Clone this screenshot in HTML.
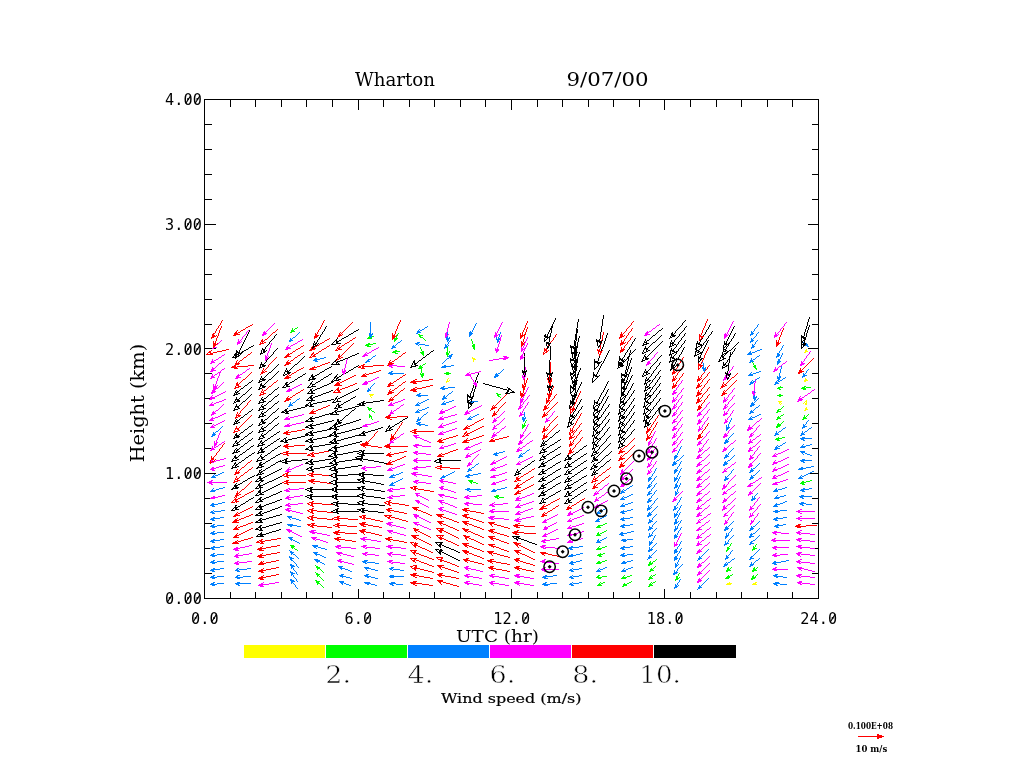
<!DOCTYPE html>
<html lang="en"><head><meta charset="utf-8"><title>Wharton 9/07/00 wind profile</title>
<style>
html,body{margin:0;padding:0;background:#fff;}
body{width:1024px;height:768px;overflow:hidden;position:relative;}
svg{position:absolute;left:0;top:0;display:block;}
.ax{stroke:#000;stroke-width:1;fill:none;shape-rendering:crispEdges;}
.tick{font-family:"DejaVu Sans Mono","Liberation Mono",monospace;font-size:15.2px;letter-spacing:0.1px;fill:#000;}
.ser{font-family:"DejaVu Serif","Liberation Serif",serif;fill:#000;}
.big{font-family:"DejaVu Serif","Liberation Serif",serif;fill:#000;stroke:#fff;stroke-width:0.6px;paint-order:fill stroke;}
.v{stroke-width:1;fill:none;stroke-linecap:butt;}
</style></head><body>
<svg width="1024" height="768" viewBox="0 0 1024 768">
<rect x="0" y="0" width="1024" height="768" fill="#ffffff"/>
<rect class="ax" x="204.5" y="99.5" width="614.0" height="499.0"/>
<path class="ax" d="M230.5 99.5v7M230.5 598.5v-7M255.5 99.5v7M255.5 598.5v-7M281.5 99.5v7M281.5 598.5v-7M306.5 99.5v7M306.5 598.5v-7M332.5 99.5v7M332.5 598.5v-7M358.5 99.5v10M358.5 598.5v-10M383.5 99.5v7M383.5 598.5v-7M409.5 99.5v7M409.5 598.5v-7M434.5 99.5v7M434.5 598.5v-7M460.5 99.5v7M460.5 598.5v-7M485.5 99.5v7M485.5 598.5v-7M511.5 99.5v10M511.5 598.5v-10M537.5 99.5v7M537.5 598.5v-7M562.5 99.5v7M562.5 598.5v-7M588.5 99.5v7M588.5 598.5v-7M613.5 99.5v7M613.5 598.5v-7M639.5 99.5v7M639.5 598.5v-7M664.5 99.5v10M664.5 598.5v-10M690.5 99.5v7M690.5 598.5v-7M716.5 99.5v7M716.5 598.5v-7M741.5 99.5v7M741.5 598.5v-7M767.5 99.5v7M767.5 598.5v-7M792.5 99.5v7M792.5 598.5v-7M204.5 573.5h7M818.5 573.5h-7M204.5 548.5h7M818.5 548.5h-7M204.5 523.5h7M818.5 523.5h-7M204.5 498.5h7M818.5 498.5h-7M204.5 473.5h11M818.5 473.5h-11M204.5 448.5h7M818.5 448.5h-7M204.5 423.5h7M818.5 423.5h-7M204.5 398.5h7M818.5 398.5h-7M204.5 373.5h7M818.5 373.5h-7M204.5 348.5h11M818.5 348.5h-11M204.5 324.5h7M818.5 324.5h-7M204.5 299.5h7M818.5 299.5h-7M204.5 274.5h7M818.5 274.5h-7M204.5 249.5h7M818.5 249.5h-7M204.5 224.5h11M818.5 224.5h-11M204.5 199.5h7M818.5 199.5h-7M204.5 174.5h7M818.5 174.5h-7M204.5 149.5h7M818.5 149.5h-7M204.5 124.5h7M818.5 124.5h-7"/>
<text class="tick" x="202.00" y="604.1" text-anchor="end">0.00</text>
<text class="tick" x="202.00" y="479.4" text-anchor="end">1.00</text>
<text class="tick" x="202.00" y="354.6" text-anchor="end">2.00</text>
<text class="tick" x="202.00" y="229.8" text-anchor="end">3.00</text>
<text class="tick" x="202.00" y="105.1" text-anchor="end">4.00</text>
<text class="tick" x="218.67" y="623.6" text-anchor="end">0.0</text>
<text class="tick" x="372.18" y="623.6" text-anchor="end">6.0</text>
<text class="tick" x="530.30" y="623.6" text-anchor="end">12.0</text>
<text class="tick" x="683.80" y="623.6" text-anchor="end">18.0</text>
<text class="tick" x="837.30" y="623.6" text-anchor="end">24.0</text>
<path d="M167.2 602.5L172.2 594.6M185.7 602.5L190.7 594.6M195.0 602.5L200.0 594.6M185.7 477.8L190.7 469.9M195.0 477.8L200.0 469.9M185.7 353.0L190.7 345.1M195.0 353.0L200.0 345.1M185.7 228.2L190.7 220.3M195.0 228.2L200.0 220.3M185.7 103.5L190.7 95.6M195.0 103.5L200.0 95.6M193.1 622.0L198.1 614.1M211.6 622.0L216.6 614.1M365.1 622.0L370.1 614.1M523.3 622.0L528.3 614.1M676.8 622.0L681.8 614.1M830.3 622.0L835.3 614.1" stroke="#000" stroke-width="1.1" fill="none"/>
<text class="ser" x="355" y="85.9" font-size="17.6" textLength="80" lengthAdjust="spacingAndGlyphs">Wharton</text>
<text class="ser" x="566.5" y="85.9" font-size="17.6" textLength="82" lengthAdjust="spacingAndGlyphs">9/07/00</text>
<text class="ser" x="0" y="0" font-size="18.4" textLength="118.5" lengthAdjust="spacingAndGlyphs" transform="translate(144 462.3) rotate(-90)">Height (km)</text>
<text class="ser" x="456" y="641.8" font-size="17" textLength="83" lengthAdjust="spacingAndGlyphs">UTC (hr)</text>
<rect x="244" y="645" width="81" height="13" fill="#ffff00" shape-rendering="crispEdges"/>
<rect x="326" y="645" width="81" height="13" fill="#00ff00" shape-rendering="crispEdges"/>
<rect x="408" y="645" width="81" height="13" fill="#0080ff" shape-rendering="crispEdges"/>
<rect x="490" y="645" width="81" height="13" fill="#ff00ff" shape-rendering="crispEdges"/>
<rect x="572" y="645" width="81" height="13" fill="#ff0000" shape-rendering="crispEdges"/>
<rect x="654" y="645" width="82" height="13" fill="#000000" shape-rendering="crispEdges"/>
<text class="big" x="325.3" y="683" font-size="24.6" textLength="25.8" lengthAdjust="spacingAndGlyphs">2.</text>
<text class="big" x="407.6" y="683" font-size="24.6" textLength="25.8" lengthAdjust="spacingAndGlyphs">4.</text>
<text class="big" x="489.6" y="683" font-size="24.6" textLength="25.8" lengthAdjust="spacingAndGlyphs">6.</text>
<text class="big" x="572.3" y="683" font-size="24.6" textLength="25.8" lengthAdjust="spacingAndGlyphs">8.</text>
<text class="big" x="639.3" y="683" font-size="24.6" textLength="41.5" lengthAdjust="spacingAndGlyphs">10.</text>
<text class="ser" x="441" y="702.7" font-size="13" stroke="#000" stroke-width="0.18" textLength="140.5" lengthAdjust="spacingAndGlyphs">Wind speed (m/s)</text>
<text class="ser" x="848" y="728.9" font-size="9.3" font-weight="bold" textLength="45" lengthAdjust="spacingAndGlyphs">0.100E+08</text>
<text class="ser" x="855.5" y="752.2" font-size="9.3" font-weight="bold" textLength="31.7" lengthAdjust="spacingAndGlyphs">10 m/s</text>
<g shape-rendering="crispEdges" fill="#ff0000"><rect x="858" y="736" width="26" height="1"/><path d="M884 736h-2v-1h-3v-1h-2v5h2v-1h3v-1h2z"/></g>
<g class="v" shape-rendering="crispEdges">
<path stroke="#ffff00" transform="translate(0 .5)" d="M805 350h2m-2 1h3m-4 1h2m-334 6h3m-2 1h3m329 20h2m-3 1h4m-362 1h3m355 0h2m-437 13h5m-4 1h3m405 6h4m23 0h2m-28 1h2m24 1h2m-2 1h2m-2 4h2m-2 1h3m-4 1h2m-51 172h2m-30 1h5m21 0h3m-30 1h5m21 0h5"/>
<path stroke="#ffff00" transform="translate(.5 0)" d="M370 396v1m1 0v1m75-16v1m1-4v2m1-3v1m1 1v1m23-24v1m1 2v2m256 220v1m50-180v1m1 0v1m1-2v1m22-1v1m1-2v1m1-25v1m1-30v1m0 50v1m0 1v1m0 4v1"/>
<path stroke="#00ff00" transform="translate(0 .5)" d="M295 328h2m-6 2h3m-3 1h4m-5 1h2m126 2h2m-1 1h4m-51 1h2m45 0h2m-53 1h2m50 0h3m-56 1h5m22 0h4m-4 1h3m-3 1h2m-28 3h2m3 0h3m-10 1h7m100 0h2m-110 1h4m103 0h3m-108 1h4m101 0h3m-2 1h2m-2 1h2m-80 2h2m-4 1h7m22 0h2m-32 1h4m24 0h4m22 0h2m-53 1h3m23 0h3m22 0h3m-27 1h2m22 0h3m-26 10h2m329 1h2m-337 1h3m331 0h3m-337 1h4m331 0h2m-338 1h4m333 0h2m-311 4h3m-27 1h2m20 0h7m-31 1h4m22 0h3m-28 1h3m-3 1h2m381 10h2m-28 1h5m19 0h3m1 0h5m-34 1h3m21 0h5m-27 1h2m22 0h3m-310 4h2m-1 1h4m278 0h2m-284 1h2m278 0h6m-285 1h2m279 0h2m-414 11h2m-1 1h4m-4 1h3m407 0h3m-4 1h2m-407 1h2m403 0h4m-5 1h2m-409 3h2m410 0h2m-414 1h3m405 1h3m23 0h3m-29 1h4m22 0h4m-31 1h2m24 0h2m-27 5h4m-259 1h4m251 0h4m-259 1h3m251 0h4m-258 1h2m252 0h2m4 10h3m-9 1h6m-7 1h4m-2 1h3m-312 40h5m337 0h2m-343 1h4m329 0h2m2 0h4m-340 1h2m1 0h3m325 0h5m-330 1h2m322 0h4m-2 1h3m-309 11h3m-5 1h5m-4 1h3m1 0h5m-7 1h2m106 25h2m-4 1h2m-7 1h5m-6 1h3m-4 1h5m3 4h2m-4 1h2m-7 1h2m1 0h2m-5 1h3m-4 1h5m-311 10h4m-3 1h4m310 0h2m-316 1h3m308 0h3m122 0h2m24 0h2m-158 1h5m125 0h3m23 0h4m-462 1h2m299 0h5m126 0h2m23 0h3m-29 1h2m-125 3h2m-7 1h5m-6 1h4m-2 1h3m3 4h2m-9 1h2m2 0h3m48 0h2m-58 1h5m47 0h2m-55 1h5m48 0h4m-5 1h4m-4 1h2m-334 1h2m-2 1h4m-3 1h3m407 0h2m24 0h2m-105 1h3m74 0h3m23 0h3m-106 1h4m72 0h5m21 0h5m-108 1h2m75 0h2m24 0h2m-438 2h2m-2 1h4m-3 1h2m279 0h2m30 0h2m21 0h2m75 0h2m-135 1h2m3 0h5m20 0h3m46 0h2m49 0h3m22 0h2m-158 1h6m20 0h5m22 0h3m24 0h2m48 0h4m22 0h4m-158 1h3m20 0h5m23 0h4m23 0h3m46 0h4m22 0h4m-107 1h2m25 0h3m73 0h2m-438 1h2m-1 1h4m-4 1h3m284 0h2m24 0h2m22 0h2m-338 1h3m281 0h2m24 0h2m-31 1h3m22 0h4m22 0h3m-55 1h5m21 0h4m22 0h4m-31 1h2m24 0h2"/>
<path stroke="#00ff00" transform="translate(.5 0)" d="M292 328v2m0 218v1m2-220v1m0 218v1m3-222v1m0 222v1m18 14v1m0 6v1m2-4v1m0 6v1m0 7v1m2-9v1m1-8v1m0 7v1m0 6v1m1-15v1m0 7v1m0 6v1m1-15v1m0 7v1m0 6v1m1-15v1m0 7v1m0 6v1m46-252v1m0 73v1m0 3v1m0 2v1m2-81v1m0 72v1m0 6v2m1 0v1m2-8v1m20-72v1m2-6v2m1-4v2m1-3v1m22 13v2m0 16v1m0 7v1m1-25v2m0 18v4m1-8v1m0 11v1m1-40v1m0 16v1m1-17v1m1 0v1m0 22v1m22-17v5m0 3v2m2-6v2m22-14v2m0 142v1m1-143v3m2 5v1m26 47v1m22 26v1m0 3v1m2-6v2m1-4v2m1-3v1m72 111v1m0 14v1m1-2v1m0 36v1m1-31v1m0 28v1m6-53v1m17 45v1m1-2v1m0 7v1m7-3v1m19-21v1m0 14v1m0 6v1m1-16v1m0 6v1m0 6v1m1-21v1m0 13v1m0 6v1m1-16v1m1-2v1m1-8v1m0 5v1m0 7v1m0 6v1m1-23v1m19 20v1m3-7v2m1-3v1m0 3v1m47-27v1m2 15v1m0 7v1m1-30v1m1-3v2m0 22v1m1-26v1m0 23v1m1 6v1m20-213v1m0 187v1m1-188v2m0 181v1m0 28v1m1-9v1m1-23v2m0 29v1m1-208v1m0 174v1m0 23v1m0 6v1m1-9v1m0 6v1m21-159v1m0 6v1m0 13v1m2-52v1m0 29v1m1-9v1m0 14v1m1-17v1m0 14v1m1-17v1m0 7v1m0 6v1m21-7v2m2-1v1m1-2v1m1-2v1"/>
<path stroke="#0080ff" transform="translate(0 .5)" d="M425 327h2m-5 2h2m-4 1h2m-5 1h3m-3 1h4m48 0h3m279 0h2m-384 1h2m45 0h2m51 0h4m278 0h3m-385 1h4m96 0h3m278 0h3m-384 1h3m97 0h2m-101 1h2m-79 1h2m151 0h2m-2 1h4m48 0h2m-210 1h2m154 0h3m47 0h4m251 0h2m-464 1h4m154 0h2m48 0h2m252 0h3m-465 1h2m206 0h2m251 0h3m-355 1h2m17 0h3m-5 1h4m-3 1h2m1 0h6m381 0h2m-383 1h4m16 0h2m305 0h2m51 0h3m-416 1h3m50 0h3m304 0h3m52 0h2m-417 1h4m48 0h3m304 0h3m-363 1h2m367 1h2m-5 1h3m-5 1h2m-8 1h2m1 0h3m-7 1h4m25 0h2m-328 1h2m294 0h5m25 0h3m-331 1h3m325 0h3m-407 1h2m73 0h4m305 0h2m17 0h3m-455 1h2m123 0h2m-136 1h2m3 0h4m123 0h2m-135 1h6m48 0h3m382 0h2m23 0h2m-467 1h4m50 0h2m381 0h3m25 0h2m-465 1h3m48 0h4m380 0h4m23 0h4m-416 1h2m382 0h2m26 0h3m-3 1h2m-335 2h2m5 0h3m-12 1h9m-10 1h5m256 0h2m-2 1h4m-3 1h3m-3 1h2m-314 1h2m366 0h2m-372 1h3m364 0h3m-371 1h16m94 0h2m253 0h3m-366 1h3m102 0h3m251 0h4m50 0h2m-310 1h4m249 0h5m50 0h4m-313 1h4m281 0h2m21 0h3m-311 1h2m281 0h4m-24 1h2m18 0h3m3 0h2m-7 1h2m-3 1h2m1 0h2m-29 1h2m23 0h2m-30 1h4m21 0h3m-28 1h3m22 0h4m-30 1h2m23 0h2m-333 2h2m-4 1h3m4 0h7m-15 1h8m-80 1h2m72 0h3m-78 1h4m-4 1h2m50 2h2m28 0h2m-34 1h3m-4 1h12m-10 1h3m22 0h2m308 0h2m-312 1h3m307 0h4m-315 1h5m306 0h3m-459 1h2m128 0h2m13 0h2m310 0h2m-331 1h2m25 0h2m-31 1h2m24 0h3m20 0h6m-185 1h2m126 0h2m23 0h3m22 0h2m-54 1h2m21 0h4m305 0h3m-465 1h3m124 0h3m22 0h5m305 0h4m-466 1h4m122 0h5m330 0h4m-466 1h2m460 0h2m-325 1h2m327 0h2m-333 1h2m-5 1h3m-6 1h3m-6 1h3m331 0h3m-338 1h5m330 0h4m-5 1h2m-327 1h2m51 0h2m280 0h2m-286 1h2m280 0h2m-286 1h2m280 0h2m-286 1h2m49 0h2m228 0h3m-287 1h3m51 0h4m223 0h3m-335 1h4m46 0h5m50 0h3m223 0h5m-336 1h3m103 0h2m-109 1h2m0 1h3m-5 1h4m-3 1h8m-6 1h2m4 0h3m375 0h2m-2 1h4m-81 1h4m72 0h3m-79 1h3m54 0h2m24 0h2m-85 1h2m-512 2h2m561 0h2m24 0h2m-594 2h2m560 0h3m23 0h3m-592 1h4m559 0h4m22 0h4m-593 1h3m559 0h2m24 0h2m-591 1h2m589 1h3m-5 1h12m-11 1h3m-79 1h3m75 0h2m-80 1h4m-5 1h4m-4 1h2m57 0h2m25 1h2m-32 1h2m24 0h4m-32 1h2m21 0h5m-31 1h3m22 0h5m-30 1h5m-6 1h3m-250 1h2m-26 1h2m295 0h5m-306 1h4m298 0h4m-311 1h5m24 0h2m280 0h2m-314 1h4m310 0h3m-315 1h3m21 0h3m153 0h2m48 0h3m82 0h2m-293 1h4m151 0h4m47 0h4m-211 1h2m154 0h3m47 0h3m-53 1h2m126 1h3m-128 1h2m49 0h2m70 0h12m-11 1h3m-131 1h3m48 0h3m76 0h2m-132 1h4m47 0h4m-252 1h2m194 0h4m47 0h4m-55 1h2m49 0h2m86 1h3m-342 1h2m327 0h2m3 0h5m-58 1h2m44 0h7m-338 1h3m204 0h2m74 0h2m45 0h5m-335 1h4m202 0h4m72 0h4m-287 1h2m205 0h3m73 0h3m59 0h2m-592 1h2m177 0h2m49 0h2m220 0h2m73 0h2m59 0h2m-592 1h2m177 0h2m49 0h2m26 0h3m327 0h2m-592 1h2m176 0h3m49 0h2m18 0h2m3 0h5m328 0h2m-593 1h3m173 0h5m50 0h2m18 0h7m280 0h2m49 0h2m-594 1h3m175 0h3m49 0h4m19 0h4m282 0h2m49 0h2m-593 1h5m173 0h6m46 0h4m22 0h3m179 0h2m74 0h2m23 0h4m45 0h3m-362 1h2m206 0h4m22 0h4m47 0h4m21 0h3m45 0h5m-403 1h2m246 0h3m23 0h3m47 0h4m21 0h2m-353 1h2m248 0h2m24 0h2m48 0h2m-330 1h2m-4 1h2m-5 1h3m-4 1h3m256 0h2m24 0h2m-288 1h6m253 0h2m25 0h3m-48 1h2m16 0h3m24 0h3m-455 1h2m280 0h2m140 0h3m24 0h3m108 0h2m-568 1h4m244 0h3m31 0h4m122 0h2m153 0h3m18 0h2m4 0h3m-596 1h3m246 0h16m12 0h2m2 0h4m274 0h2m1 0h4m19 0h8m-598 1h5m251 0h2m23 0h5m127 0h2m148 0h4m22 0h4m-594 1h5m254 0h2m20 0h5m125 0h3m25 0h2m122 0h5m24 0h3m-184 1h4m23 0h2m25 0h2m-57 1h2m26 0h4m23 0h3m-47 1h2m14 0h3m25 0h2m-48 1h2m153 0h2m15 0h3m-177 1h2m151 0h4m15 0h13m-188 1h3m148 0h5m20 0h3m-182 1h3m25 0h2m101 0h4m18 0h5m23 0h2m-184 1h5m23 0h2m101 0h4m-107 1h4m99 0h2m-106 1h4m134 0h2m-565 1h3m406 0h2m14 0h2m134 0h2m16 0h3m-592 1h2m4 0h4m406 0h3m149 0h3m16 0h7m-595 1h7m407 0h3m147 0h5m20 0h3m3 0h6m-602 1h4m407 0h4m149 0h3m25 0h2m-592 1h3m405 0h5m49 0h2m97 0h5m-130 1h2m24 0h2m-29 1h4m23 0h3m-74 1h2m26 0h2m14 0h3m23 0h3m-455 1h4m402 0h4m144 0h3m2 0h7m-576 1h2m1 0h7m379 0h2m19 0h6m146 0h7m-570 1h4m383 0h3m20 0h4m151 0h3m-566 1h3m382 0h4m21 0h3m23 0h3m-55 1h2m50 0h4m22 0h4m-31 1h4m23 0h3m-390 1h5m312 0h2m41 0h2m25 0h2m-463 1h2m5 0h4m64 0h4m310 0h2m26 0h3m143 0h2m5 0h4m-576 1h9m72 0h4m304 0h2m19 0h9m144 0h9m-573 1h4m82 0h3m298 0h3m20 0h4m51 0h2m96 0h4m-565 1h3m84 0h2m295 0h3m23 0h3m24 0h3m23 0h2m98 0h3m-183 1h5m49 0h4m22 0h2m-29 1h3m23 0h4m-4 1h3m-464 1h2m72 0h6m330 0h2m5 0h3m144 0h2m4 0h3m-575 1h3m3 0h7m64 0h9m324 0h9m145 0h8m-573 1h7m73 0h2m5 0h4m319 0h4m129 0h2m19 0h4m-566 1h3m407 0h3m24 0h3m73 0h3m23 0h2m23 0h3m-130 1h4m22 0h3m47 0h4m21 0h4m-106 1h3m23 0h3m47 0h4m22 0h3m-79 1h2m48 0h2m23 0h2m-538 1h2m416 0h3m-423 1h3m3 0h7m397 0h2m4 0h4m-421 1h7m403 0h7m126 0h2m-543 1h3m404 0h4m127 0h3m-132 1h3m25 0h4m21 0h3m49 0h3m21 0h2m-104 1h3m23 0h4m47 0h3m21 0h5m-466 1h5m381 0h3m48 0h2m22 0h2m-462 1h3m312 0h2m-393 1h2m5 0h4m66 0h3m309 0h2m18 0h4m1 0h6m-422 1h9m73 0h2m302 0h2m1 0h2m19 0h6m126 0h2m-545 1h4m81 0h2m300 0h3m23 0h3m125 0h2m-541 1h3m82 0h2m297 0h5m48 0h4m97 0h2m-103 1h3m73 0h4m21 0h4m-105 1h2m73 0h3m22 0h2m-439 1h6m-105 1h2m5 0h4m89 0h5m253 0h2m6 0h4m40 0h2m5 0h3m-422 1h9m94 0h2m2 0h3m248 0h10m42 0h9m-420 1h4m107 0h4m243 0h4m48 0h4m-412 1h3m110 0h2m243 0h3m49 0h3m24 0h4m22 0h2m-29 1h4m22 0h3m-387 1h2m356 0h2m24 0h4m-388 1h4m19 0h5m356 0h3m-464 1h2m76 0h2m21 0h3m263 0h3m40 0h2m-414 1h3m3 0h7m69 0h2m20 0h5m251 0h2m3 0h4m41 0h3m3 0h6m-423 1h7m103 0h2m247 0h7m44 0h7m-415 1h3m107 0h2m244 0h5m49 0h3m24 0h2m24 0h2m49 0h2m23 0h2m-464 1h3m32 0h2m322 0h4m22 0h3m22 0h2m25 0h3m21 0h2m-462 1h4m354 0h2m24 0h4m20 0h4m23 0h3m22 0h4m-464 1h2m22 0h4m356 0h3m21 0h2m32 0h2m15 0h2m-538 1h2m76 0h2m22 0h5m44 0h4m212 0h2m49 0h2m123 0h2m28 0h3m-578 1h3m3 0h7m92 0h4m42 0h5m204 0h2m3 0h4m43 0h2m2 0h4m143 0h2m5 0h5m-576 1h7m103 0h2m41 0h3m1 0h8m195 0h6m46 0h5m101 0h2m43 0h8m-569 1h3m107 0h2m41 0h2m8 0h4m190 0h4m48 0h5m146 0h4m-486 1h2m279 0h3m101 0h2m47 0h4m22 0h4m20 0h3m-487 1h4m381 0h3m46 0h3m23 0h3m-462 1h4m43 0h5m332 0h2m46 0h2m24 0h2m-460 1h2m46 0h3m22 0h5m22 0h3m211 0h2m24 0h2m-420 1h2m5 0h4m13 0h2m8 0h4m89 0h5m20 0h6m18 0h4m186 0h3m21 0h2m23 0h3m-420 1h9m16 0h2m1 0h8m98 0h3m23 0h4m15 0h2m1 0h7m170 0h2m1 0h6m21 0h3m23 0h2m-418 1h4m21 0h4m109 0h2m25 0h3m22 0h4m165 0h4m24 0h3m22 0h4m-414 1h3m22 0h3m110 0h2m219 0h3m22 0h5m20 0h5m-336 1h3m381 0h4m-387 1h4m378 0h4m-386 1h2m48 0h3m22 0h3m304 0h2m100 0h3m-565 1h2m22 0h3m99 0h4m21 0h4m22 0h4m151 0h2m6 0h4m22 0h3m191 0h4m-566 1h3m3 0h7m12 0h2m5 0h8m89 0h6m19 0h6m18 0h15m139 0h10m17 0h2m1 0h6m195 0h9m-573 1h7m18 0h8m103 0h4m17 0h2m2 0h4m15 0h4m148 0h4m23 0h4m203 0h2m5 0h4m-575 1h3m22 0h3m110 0h2m23 0h3m166 0h4m23 0h3m-284 1h2m-2 1h4m-3 1h4m44 0h5m-131 1h2m22 0h3m51 0h2m47 0h4m20 0h6m21 0h4m150 0h2m32 0h3m193 0h4m-568 1h3m3 0h7m11 0h16m90 0h2m1 0h2m19 0h6m18 0h7m147 0h3m4 0h7m13 0h2m1 0h6m194 0h7m-570 1h7m19 0h3m107 0h3m18 0h2m2 0h4m15 0h3m3 0h7m139 0h8m19 0h4m201 0h3m3 0h7m-575 1h3m23 0h2m109 0h2m24 0h2m15 0h2m150 0h4m23 0h3m101 0h2m99 0h2m-103 1h3m21 0h2m-27 1h3m21 0h4m-4 1h2"/>
<path stroke="#0080ff" transform="translate(.5 0)" d="M212 489v1m1-58v1m0 42v1m0 12v1m0 21v1m1-37v1m1-43v1m3-3v1m1-2v1m1-2v1m1-2v1m1-2v1m67 91v1m0 31v1m0 5v1m1-219v1m0 63v2m0 115v1m0 51v1m1-32v1m0 13v1m0 13v1m0 6v1m0 7v1m1-246v1m0 64v1m1 157v1m0 6v2m0 5v2m0 6v1m1-22v1m0 7v1m0 6v1m0 6v1m1-249v1m0 64v1m0 153v1m0 7v1m0 7v1m0 6v1m0 6v2m1-252v1m0 64v1m0 155v1m0 7v2m0 6v2m0 5v2m0 6v1m1-254v1m0 222v1m0 8v1m0 7v1m0 6v1m0 6v1m1-256v1m0 224v1m0 8v1m1-236v1m0 65v1m0 144v1m17 4v1m0 6v1m1 6v1m7 1v1m17 4v1m1 7v1m0 6v1m24-16v1m1 0v1m1-183v1m2-67v11m0 4v1m0 49v2m1-31v1m0 27v1m1-54v1m0 23v1m0 27v1m1-2v1m1-2v1m1-29v1m17 126v1m0 87v1m1-226v1m0 128v1m2-130v1m1-2v1m1-2v1m3-3v1m1-2v1m1 137v1m15-76v1m0 6v1m1-81v1m0 14v1m0 56v1m0 6v1m0 7v2m1-90v1m1 88v1m1-2v1m1-2v1m1-2v1m1-88v1m2 84v1m1-88v1m0 85v1m15-50v1m1-2v1m0 39v1m0 72v1m1-128v1m0 12v1m0 33v1m0 5v1m1-58v1m0 15v1m1-2v1m0 36v1m1-65v3m0 1v1m0 4v1m0 2v1m0 50v1m1-54v2m0 1v1m0 48v1m1-58v1m0 3v1m1-2v1m0 17v1m1 33v1m1-2v1m2 79v1m15-136v1m0 80v1m0 50v1m1-138v1m0 69v1m0 14v1m1 51v1m1-139v2m1-4v2m1-4v2m0 138v1m1-143v2m0 139v1m1-143v1m2 139v1m18-127v2m0 34v1m0 78v1m1-111v1m1-6v1m1-4v3m1-5v2m0 38v1m1-2v1m1-2v1m1-2v1m17 84v1m1-2v1m1 0v1m1-34v1m1-10v5m1 0v1m0 34v1m1-2v1m3-3v1m43 118v1m0 6v1m0 6v1m26-72v1m0 6v1m0 20v1m0 29v1m1-60v1m0 57v1m3-59v1m3-3v1m1 6v1m0 21v1m16-48v1m0 6v1m0 6v1m1-16v1m0 6v1m0 6v1m0 6v1m0 6v1m0 51v1m1-2v1m2-80v1m3-3v1m3-3v1m15 2v1m0 6v1m0 14v1m0 48v1m1-79v1m0 23v2m0 16v1m0 6v1m0 6v1m1-26v1m0 6v1m0 6v1m0 6v2m0 6v1m0 3v1m0 1v2m0 6v1m1-50v1m1-31v1m0 5v2m0 1v1m0 3v2m0 5v2m0 7v1m0 1v1m0 4v1m0 21v1m0 6v1m0 6v1m0 6v1m1-82v2m0 5v1m0 6v1m0 6v1m0 8v1m0 6v1m0 6v2m0 5v2m0 5v2m0 6v1m0 6v1m0 6v1m1-82v1m0 6v1m0 6v1m0 6v1m0 8v1m0 6v1m0 6v1m0 6v1m0 6v1m0 6v2m0 6v1m0 6v1m1-83v2m0 5v2m0 5v2m0 5v2m0 7v2m0 6v1m0 6v1m0 6v1m0 6v1m0 5v2m0 7v1m0 6v1m1-84v2m0 6v1m0 6v1m0 6v1m0 8v1m0 7v1m0 6v1m0 6v1m0 6v1m0 5v1m0 8v1m0 6v1m1-84v1m0 7v1m0 6v1m0 6v1m0 8v1m0 7v1m0 6v1m0 6v1m0 6v1m0 14v1m0 6v1m1-53v1m0 7v1m16 3v1m1-52v1m0 1v1m0 11v1m0 3v1m0 3v1m0 6v1m0 24v1m0 3v1m0 6v1m0 6v1m0 6v1m0 14v1m0 6v1m0 9v2m0 16v1m1-98v1m0 3v1m0 30v2m0 6v1m0 28v1m0 3v1m0 16v1m1-124v1m0 15v1m0 5v1m0 21v1m0 7v1m0 57v1m1-119v2m0 12v2m0 6v2m0 4v2m0 6v3m0 11v2m0 2v1m0 3v2m0 4v2m0 7v2m0 5v2m0 12v2m0 5v2m0 6v2m0 5v2m0 12v2m1-134v2m0 13v1m0 6v2m0 4v2m0 6v2m0 3v1m0 9v1m0 7v1m0 4v2m0 4v1m0 2v2m0 5v2m0 13v1m0 6v1m0 6v2m0 2v1m0 3v1m0 13v1m0 2v1m1-137v2m0 8v1m0 4v2m0 5v2m0 4v2m0 6v2m0 13v2m0 6v2m0 3v2m0 8v1m0 6v1m0 13v2m0 5v2m0 5v2m0 7v1m0 12v2m1-135v2m0 9v1m0 3v2m0 5v2m0 5v1m0 6v2m0 13v2m0 6v2m0 4v1m0 8v2m0 5v2m0 12v2m0 5v2m0 5v2m0 8v1m0 12v1m1-134v1m0 10v1m0 3v1m0 6v1m0 28v1m0 7v1m0 14v1m0 6v1m0 13v1m0 6v1m0 16v1m1-110v1m0 107v1m1-110v1m14 104v1m0 28v1m2-34v1m0 28v1m2-30v1m0 28v1m1-224v1m0 192v1m0 28v1m1-222v4m0 187v1m0 28v1m1-213v1m0 181v1m0 28v1m1-216v1m0 184v1m0 28v1m1-31v1m0 28v1m1-31v1m0 28v1m1-31v1m0 28v1m16-121v1m0 86v1m1-85v1m0 14v1m0 61v1m0 2v2m0 16v1m0 3v1m1-139v2m0 3v1m0 8v1m0 14v1m0 71v1m0 6v2m0 20v1m0 6v1m1-102v1m0 14v1m0 65v1m0 20v1m1-140v3m0 11v2m0 13v2m0 20v1m0 50v1m0 6v2m0 5v2m0 13v1m1-134v2m0 13v1m0 14v1m0 21v1m0 50v1m0 6v1m0 6v1m0 14v1m1-135v2m0 14v1m0 14v1m0 7v1m0 13v1m0 50v1m0 6v1m0 6v1m0 13v2m0 7v1m1-144v2m0 15v1m0 14v1m0 7v1m0 12v2m0 50v1m0 5v2m0 6v1m0 13v1m0 8v1m1-127v1m0 14v1m0 7v1m0 12v1m0 51v1m0 5v1m0 7v1m0 13v1m1-118v1m0 14v1m0 7v1m0 12v1m0 51v1m0 13v1m1-81v1m0 102v1m16-224v1m0 6v1m0 8v1m0 21v1m0 43v1m1-87v1m0 6v1m0 9v1m0 9v2m0 12v1m0 8v1m0 28v1m0 5v1m0 51v1m0 6v1m0 50v1m0 6v1m0 28v2m1-220v1m0 35v1m0 21v1m0 93v2m1-167v1m0 6v1m0 71v1m0 144v1m0 7v1m1-235v2m0 6v1m0 6v1m0 46v2m0 2v1m0 4v1m0 1v1m0 6v1m0 86v2m0 56v1m0 7v1m1-235v1m0 7v1m0 5v2m0 14v1m0 21v1m0 20v1m0 6v1m0 58v1m0 6v1m0 20v1m0 29v1m0 6v1m0 6v1m0 13v1m0 7v1m1-235v1m0 6v2m0 5v1m0 15v1m0 21v1m0 16v1m0 3v1m0 65v1m0 6v1m0 20v1m0 29v1m0 6v1m0 6v1m0 13v1m1-228v2m0 6v1m0 6v1m0 58v1m0 65v1m0 6v1m0 20v1m0 29v1m0 6v1m0 6v1m0 13v1m1-228v1m0 7v1m0 65v1m0 7v1m0 57v1m0 6v1m0 50v1m0 6v1m0 6v1m0 13v1m0 8v1m1-205v1m0 21v1m0 27v1m0 57v1m0 6v1m0 50v1m0 6v1m0 6v1m0 13v1m0 8v1m17-202v1m0 23v1m0 49v2m0 13v1m0 41v1m0 7v1m0 6v1m1-140v1m0 11v1m0 68v1m0 49v1m1-64v1m1-82v2m0 20v3m1-26v1m0 6v2m0 10v4m1-25v2m0 5v2m0 9v3m0 61v1m1-85v2m0 5v2m0 24v1m0 49v1m0 14v1m1-100v1m2 31v1m0 49v1m0 14v1m15 33v1m1-2v1m1-99v1m0 50v1m0 2v2m0 12v1m0 7v1m1-112v1m0 30v1m0 50v1m0 19v1m0 9v1m1-23v1m1-60v1m0 50v1m1-82v1m0 27v2m0 49v2m1-54v1m0 50v1m0 8v1m1-62v1m0 50v1m0 8v1m3-3v1"/>
<path stroke="#ff00ff" transform="translate(0 .5)" d="M657 325h2m-6 3h2m-6 3h2m-388 1h3m380 0h3m-386 1h4m178 0h2m48 0h2m148 0h3m-386 1h4m179 0h2m48 0h2m148 0h5m74 0h3m48 0h2m-515 1h2m181 0h3m46 0h4m146 0h3m77 0h4m46 0h4m-333 1h2m47 0h3m227 0h3m47 0h3m-53 1h2m-426 3h2m-64 1h2m58 0h2m-63 1h4m-4 1h3m55 0h2m-4 1h2m-4 1h2m-79 2h3m69 0h4m-78 1h2m72 0h5m85 0h2m143 0h2m1 0h2m-241 1h3m86 0h2m119 0h4m22 0h4m-153 1h2m121 0h4m22 0h2m-27 1h2m-129 1h2m-4 1h2m-5 1h3m-145 1h2m139 0h5m153 0h2m-258 1h2m95 0h3m138 0h4m13 0h3m-304 1h2m44 0h3m236 0h5m11 0h4m-259 1h3m231 0h9m12 0h3m-307 1h2m47 0h2m226 0h6m4 0h3m-292 1h2m273 0h4m-282 1h3m434 0h2m-439 1h4m432 0h3m151 0h2m-593 1h2m7 0h2m426 0h4m132 0h2m16 0h4m-159 1h3m151 0h4m-415 1h8m403 0h2m-413 1h3m5 0h8m374 0h2m-390 1h2m-181 1h3m-4 1h3m8 0h2m23 0h2m525 0h4m-567 1h5m128 0h2m428 0h3m-567 1h3m129 0h4m133 0h2m292 0h2m-557 1h3m22 0h2m97 0h3m130 0h4m-136 1h2m122 0h2m2 0h4m-260 1h2m23 0h2m224 0h5m-234 1h3m225 0h6m-260 1h3m22 0h3m283 0h2m-313 1h4m21 0h5m136 0h2m143 0h3m199 0h2m-516 1h2m23 0h3m137 0h2m146 0h2m199 0h3m-354 1h2m348 0h3m-355 1h2m-8 1h2m1 0h3m-7 1h4m106 0h2m-113 1h5m105 0h4m-177 1h2m60 0h5m107 0h3m-179 1h2m175 0h2m-264 1h4m79 0h2m-85 1h4m77 0h2m-83 1h5m74 0h2m-81 1h3m72 0h4m-80 1h3m72 0h5m382 0h2m136 0h2m-602 1h4m70 0h4m383 0h2m77 0h2m-543 1h4m8 0h2m448 0h4m75 0h2m-543 1h2m8 0h2m449 0h4m76 0h3m53 0h2m-591 1h2m451 0h2m79 0h2m-538 1h2m586 0h2m-592 1h2m-7 1h5m587 0h2m-594 1h5m584 0h3m-593 1h3m12 0h2m177 0h2m115 0h4m149 0h2m49 0h2m72 0h5m-581 1h2m177 0h2m117 0h3m149 0h4m47 0h4m71 0h4m-583 1h3m176 0h3m119 0h3m149 0h3m48 0h3m71 0h2m-583 1h3m176 0h3m122 0h2m-308 1h2m174 0h2m1 0h2m-185 1h4m175 0h4m-184 1h5m174 0h6m7 0h2m117 0h2m152 0h2m49 0h2m-273 1h2m23 0h2m38 0h2m152 0h2m49 0h2m-274 1h2m23 0h2m40 0h3m151 0h3m48 0h3m-330 1h2m51 0h2m23 0h2m41 0h3m151 0h3m48 0h3m-278 1h2m23 0h2m-259 1h2m176 0h2m49 0h3m23 0h2m-33 1h5m21 0h2m1 0h2m-259 1h3m175 0h3m47 0h5m20 0h4m205 0h2m23 0h2m-489 1h4m8 0h2m164 0h4m45 0h4m22 0h5m50 0h2m151 0h2m23 0h3m23 0h4m-517 1h3m8 0h2m78 0h2m85 0h2m64 0h2m7 0h3m53 0h4m149 0h3m22 0h4m21 0h4m-507 1h2m76 0h4m149 0h4m64 0h3m150 0h3m22 0h3m23 0h2m-507 1h2m74 0h4m150 0h3m-236 1h3m68 0h2m2 0h4m146 0h2m2 0h4m49 0h2m-288 1h4m70 0h5m149 0h5m-234 1h3m71 0h6m148 0h6m50 0h2m50 0h2m126 0h2m-467 1h5m279 0h4m49 0h4m123 0h2m23 0h3m24 0h2m-505 1h2m153 0h2m76 0h2m36 0h3m49 0h3m125 0h4m21 0h4m23 0h3m29 0h2m-539 1h2m79 0h3m70 0h3m75 0h3m37 0h2m178 0h3m23 0h3m23 0h3m-509 1h2m76 0h5m70 0h3m75 0h3m245 0h3m-484 1h2m69 0h2m3 0h4m69 0h6m75 0h3m48 0h2m-285 1h2m69 0h7m71 0h4m73 0h2m1 0h3m-235 1h3m70 0h6m72 0h6m71 0h4m51 0h2m178 0h2m-466 1h5m223 0h6m49 0h2m178 0h2m73 0h4m-297 1h2m36 0h4m5 0h2m169 0h4m22 0h2m47 0h5m-301 1h3m37 0h2m178 0h4m22 0h4m45 0h4m-302 1h3m220 0h2m24 0h2m47 0h2m-303 1h3m-9 1h2m1 0h3m51 0h2m-60 1h4m308 0h2m-352 1h2m35 0h6m49 0h3m178 0h2m48 0h3m23 0h2m-339 1h6m73 0h5m23 0h4m149 0h2m49 0h4m22 0h3m-339 1h3m75 0h3m25 0h3m150 0h3m47 0h4m22 0h3m5 0h2m-362 1h2m16 0h5m71 0h2m27 0h2m150 0h3m48 0h2m-305 1h2m-28 1h2m26 0h2m329 0h2m-331 1h3m-37 1h3m34 0h2m90 0h3m8 0h2m117 0h2m23 0h2m23 0h2m48 0h3m-536 1h2m4 0h2m166 0h4m35 0h2m49 0h2m37 0h4m125 0h2m23 0h2m23 0h3m48 0h4m-539 1h3m172 0h2m63 0h2m22 0h2m38 0h4m5 0h2m119 0h3m22 0h3m22 0h4m29 0h2m15 0h2m-536 1h3m2 0h2m194 0h4m32 0h3m21 0h3m40 0h2m128 0h2m22 0h3m22 0h3m-486 1h2m197 0h9m26 0h3m22 0h2m-259 1h2m196 0h3m5 0h9m13 0h4m23 0h2m50 0h2m228 0h2m-541 1h2m200 0h2m22 0h4m22 0h5m-260 1h3m225 0h5m21 0h3m52 0h2m152 0h2m48 0h3m22 0h3m-541 1h4m249 0h6m47 0h3m128 0h2m23 0h2m24 0h2m22 0h4m22 0h2m36 0h2m-579 1h2m266 0h2m37 0h5m126 0h2m23 0h4m22 0h3m3 0h2m16 0h3m22 0h5m32 0h2m-372 1h3m58 0h2m38 0h3m128 0h4m21 0h3m23 0h3m21 0h2m24 0h2m33 0h2m-372 1h5m56 0h2m171 0h3m131 0h2m-369 1h3m1 0h8m46 0h2m304 0h3m-365 1h2m8 0h5m39 0h2m304 0h2m-312 1h4m228 0h3m72 0h3m-310 1h5m226 0h3m50 0h2m20 0h5m-312 1h3m36 0h2m24 0h2m116 0h2m47 0h5m48 0h4m33 0h2m-565 1h2m190 0h2m84 0h2m24 0h2m117 0h4m45 0h3m50 0h4m32 0h2m-567 1h4m190 0h3m83 0h2m24 0h2m119 0h3m99 0h2m32 0h2m-574 1h2m3 0h4m193 0h18m67 0h2m24 0h2m176 0h2m77 0h2m-569 1h2m198 0h3m79 0h2m24 0h2m254 0h3m-569 1h2m202 0h2m74 0h4m24 0h2m177 0h2m72 0h5m-310 1h3m20 0h5m21 0h3m178 0h2m50 0h2m21 0h4m-476 1h2m100 0h2m63 0h4m18 0h3m12 0h2m9 0h5m127 0h2m47 0h5m30 0h2m15 0h3m20 0h2m13 0h2m-566 1h2m74 0h2m99 0h3m64 0h3m33 0h2m143 0h3m46 0h3m5 0h2m42 0h4m32 0h2m-568 1h4m73 0h3m65 0h2m10 0h5m16 0h3m16 0h2m8 0h5m69 0h3m144 0h3m46 0h2m50 0h4m31 0h2m-573 1h2m2 0h3m75 0h2m66 0h3m1 0h10m19 0h2m17 0h12m71 0h3m228 0h2m18 0h2m31 0h2m-572 1h5m76 0h2m67 0h5m23 0h2m1 0h3m17 0h5m75 0h2m1 0h2m281 0h3m-571 1h4m73 0h5m71 0h2m23 0h4m22 0h4m73 0h4m278 0h5m-566 1h3m71 0h3m76 0h2m20 0h6m97 0h6m125 0h2m75 0h3m23 0h2m47 0h4m-492 1h6m330 0h3m24 0h2m47 0h5m21 0h4m45 0h2m13 0h2m-376 1h5m87 0h2m114 0h4m23 0h3m46 0h3m5 0h2m15 0h2m61 0h2m-376 1h5m86 0h3m115 0h3m24 0h3m46 0h2m85 0h2m-373 1h10m77 0h3m279 0h2m-369 1h2m6 0h6m65 0h6m126 0h2m147 0h2m2 0h3m-353 1h4m59 0h4m278 0h2m1 0h2m-288 1h6m125 0h3m74 0h3m72 0h3m-155 1h4m72 0h3m59 0h2m11 0h5m-336 1h3m61 0h2m113 0h4m5 0h2m66 0h5m3 0h2m79 0h2m-577 1h2m202 0h4m20 0h4m59 0h3m115 0h2m74 0h3m57 0h2m25 0h3m-577 1h3m201 0h5m22 0h8m51 0h3m278 0h3m-576 1h20m187 0h3m1 0h8m15 0h2m5 0h5m40 0h2m1 0h3m126 0h2m126 0h2m20 0h5m-571 1h3m204 0h2m8 0h5m22 0h3m36 0h4m254 0h3m20 0h4m-566 1h2m278 0h5m125 0h3m74 0h3m48 0h2m21 0h6m-173 1h2m14 0h4m72 0h3m23 0h2m23 0h5m-312 1h3m176 0h4m73 0h5m21 0h4m5 0h2m13 0h4m-312 1h4m253 0h3m24 0h3m-438 1h2m9 0h5m86 0h3m7 0h5m35 0h4m278 0h3m-439 1h2m1 0h10m89 0h3m1 0h8m41 0h2m1 0h4m152 0h2m100 0h2m24 0h2m-446 1h5m98 0h5m56 0h3m-165 1h4m99 0h4m58 0h3m245 0h2m-247 1h2m150 0h2m90 0h2m23 0h3m23 0h3m-337 1h5m112 0h2m60 0h5m98 0h5m21 0h4m22 0h4m-337 1h2m20 0h6m86 0h2m62 0h3m100 0h3m5 0h2m15 0h2m7 0h2m15 0h3m-529 1h3m75 0h3m88 0h2m7 0h5m11 0h4m19 0h6m22 0h2m8 0h5m45 0h3m63 0h2m7 0h2m92 0h2m-485 1h2m3 0h4m65 0h2m5 0h6m89 0h2m1 0h8m20 0h2m18 0h2m3 0h5m15 0h3m1 0h8m48 0h2m-316 1h7m68 0h8m93 0h5m30 0h2m26 0h4m10 0h5m48 0h2m3 0h3m74 0h2m-391 1h5m70 0h4m100 0h4m31 0h2m28 0h3m9 0h4m46 0h6m152 0h2m-388 1h3m135 0h2m88 0h3m76 0h3m75 0h4m21 0h3m23 0h3m-312 1h4m19 0h6m71 0h6m74 0h4m74 0h3m21 0h5m5 0h2m14 0h4m-311 1h4m19 0h3m90 0h2m60 0h2m9 0h2m65 0h2m23 0h3m23 0h3m-309 1h3m20 0h5m21 0h3m60 0h3m71 0h2m91 0h2m24 0h2m-436 1h2m8 0h5m117 0h2m23 0h3m16 0h9m19 0h2m9 0h5m18 0h3m72 0h2m-317 1h3m1 0h8m124 0h2m24 0h2m15 0h3m5 0h9m8 0h3m1 0h9m20 0h3m73 0h2m101 0h2m24 0h2m-445 1h5m134 0h2m24 0h3m14 0h2m20 0h5m23 0h2m1 0h3m73 0h3m-311 1h3m135 0h2m25 0h2m37 0h3m21 0h4m75 0h3m125 0h2m-285 1h4m11 0h2m58 0h6m73 0h5m98 0h3m23 0h3m24 0h2m-465 1h4m147 0h4m89 0h2m48 0h2m114 0h5m3 0h2m16 0h4m23 0h4m-469 1h4m150 0h4m49 0h3m33 0h3m48 0h2m115 0h3m23 0h3m24 0h3m48 0h2m-516 1h6m148 0h2m1 0h3m44 0h3m32 0h3m49 0h2m219 0h2m-512 1h2m2 0h4m150 0h3m40 0h20m9 0h2m3 0h2m50 0h2m219 0h19m-519 1h4m149 0h3m39 0h3m23 0h2m1 0h3m46 0h2m2 0h2m223 0h2m-500 1h3m149 0h3m61 0h4m48 0h5m125 0h3m24 0h2m73 0h2m-389 1h4m38 0h2m58 0h6m47 0h5m124 0h3m8 0h2m14 0h2m-312 1h5m136 0h2m10 0h3m12 0h2m113 0h5m22 0h4m22 0h4m-340 1h5m71 0h5m36 0h3m19 0h2m25 0h2m114 0h3m24 0h2m24 0h3m48 0h2m-387 1h2m2 0h2m67 0h6m32 0h5m20 0h2m24 0h3m124 0h2m92 0h2m-379 1h2m66 0h4m1 0h10m13 0h2m3 0h4m23 0h2m23 0h3m219 0h19m-392 1h2m66 0h3m10 0h5m6 0h7m25 0h2m23 0h2m127 0h2m95 0h2m-375 1h2m87 0h5m25 0h3m21 0h4m228 0h2m-375 1h2m87 0h5m22 0h3m21 0h5m126 0h2m25 0h2m24 0h3m-366 1h5m20 0h6m10 0h2m111 0h5m150 0h4m5 0h2m17 0h3m23 0h2m-367 1h5m23 0h3m137 0h2m26 0h2m112 0h2m26 0h3m23 0h2m-365 1h5m23 0h5m132 0h2m25 0h3m-193 1h2m1 0h4m24 0h2m128 0h2m24 0h3m123 0h2m-308 1h4m22 0h2m124 0h2m22 0h4m-176 1h4m20 0h3m117 0h4m20 0h4m127 0h2m-297 1h2m21 0h2m115 0h4m19 0h5m126 0h2m-414 1h4m139 0h2m112 0h4m9 0h2m139 0h5m5 0h2m-422 1h5m19 0h5m71 0h6m161 0h2m140 0h3m101 0h2m-514 1h4m17 0h5m74 0h5m159 0h2m28 0h2m190 0h3m21 0h2m-508 1h2m16 0h7m72 0h2m2 0h4m153 0h2m26 0h4m190 0h9m15 0h5m-507 1h2m16 0h3m2 0h5m75 0h3m148 0h2m19 0h2m3 0h4m124 0h2m69 0h3m5 0h8m8 0h3m1 0h9m-514 1h2m24 0h5m73 0h4m140 0h4m20 0h6m201 0h2m22 0h2m9 0h5m-517 1h2m27 0h3m74 0h2m137 0h3m21 0h5m-272 1h2m240 0h5m150 0h3m7 0h2m-398 1h6m46 0h4m330 0h5m-390 1h4m44 0h5m191 0h3m22 0h2m113 0h3m75 0h2m22 0h4m-489 1h2m1 0h4m41 0h10m173 0h2m4 0h6m21 0h4m191 0h3m21 0h5m-481 1h3m40 0h2m6 0h6m165 0h8m19 0h2m2 0h4m125 0h2m67 0h19m7 0h3m1 0h9m-487 1h3m51 0h4m160 0h4m23 0h5m200 0h3m23 0h2m9 0h5m-489 1h2m215 0h3m21 0h6m124 1h3m-26 1h4m19 0h5m-453 1h3m85 0h4m22 0h4m21 0h5m149 0h4m128 0h3m19 0h3m6 0h2m91 0h4m-557 1h4m86 0h6m20 0h5m20 0h5m149 0h5m229 0h3m19 0h5m-565 1h2m2 0h5m91 0h3m2 0h10m12 0h2m1 0h9m13 0h13m140 0h3m1 0h10m217 0h17m9 0h12m-576 1h6m98 0h3m10 0h5m9 0h2m8 0h5m10 0h2m9 0h5m137 0h3m9 0h5m213 0h3m24 0h2m8 0h5m-582 1h5m537 0h2m-542 1h4m459 0h3m-4 1h5m-366 1h6m23 0h3m22 0h3m304 0h3m98 0h4m-553 1h3m85 0h6m19 0h5m20 0h5m304 0h2m77 0h2m19 0h5m-565 1h2m5 0h6m89 0h2m3 0h4m16 0h3m1 0h8m13 0h3m1 0h9m372 0h3m4 0h8m9 0h3m1 0h9m-575 1h8m104 0h4m14 0h2m8 0h4m10 0h2m10 0h5m366 0h8m18 0h2m10 0h5m-581 1h4m113 0h3m420 0h3m-541 1h3m100 2h3m202 0h2m254 0h2m-465 1h4m48 0h4m149 0h3m253 0h2m-563 1h2m8 0h5m86 0h6m43 0h5m148 0h5m251 0h5m-566 1h3m1 0h8m93 0h2m2 0h4m41 0h2m1 0h8m142 0h12m148 0h2m93 0h3m1 0h9m-576 1h5m109 0h4m39 0h2m7 0h5m139 0h2m8 0h5m240 0h2m9 0h5m-579 1h3m113 0h2m344 0h3m-3 1h4m-236 1h3m228 0h4m-237 1h4m76 0h2m151 0h2m76 0h2m20 0h5m-337 1h6m71 0h3m228 0h3m22 0h6m-338 1h2m3 0h5m65 0h18m213 0h16m11 0h2m3 0h4m-332 1h4m62 0h3m229 0h3m31 0h4m-332 1h3m61 0h2m266 0h3m-117 1h3m-3 1h4m-236 1h4m21 0h4m21 0h4m177 0h3m98 0h4m-338 1h4m21 0h4m21 0h5m277 0h5m-336 1h8m17 0h9m16 0h9m273 0h3m1 0h9m-343 1h2m4 0h6m13 0h2m5 0h6m12 0h3m4 0h6m269 0h2m9 0h5m-336 1h3m23 0h4m21 0h4m164 1h3m-3 1h4m-236 1h4m21 0h4m21 0h4m177 0h4m98 0h3m-527 1h4m185 0h4m21 0h4m21 0h5m178 0h2m98 0h5m-541 1h2m6 0h6m190 0h8m17 0h9m16 0h9m274 0h3m1 0h8m-551 1h10m198 0h2m4 0h6m12 0h2m6 0h6m12 0h2m5 0h6m270 0h2m8 0h5m-557 1h5m216 0h3m23 0h4m21 0h4m-274 1h4"/>
<path stroke="#ff00ff" transform="translate(.5 0)" d="M209 462v1m2-67v1m0 6v1m0 11v1m0 45v1m1-103v2m0 6v1m0 6v2m0 19v1m0 6v1m0 14v1m0 7v1m0 20v2m1-64v2m0 25v1m0 12v1m1-50v1m0 65v2m0 3v1m1-80v1m0 16v2m0 25v1m1-46v1m0 14v3m0 56v2m1-98v1m0 20v1m0 7v1m0 4v3m0 4v1m0 52v2m1-97v1m0 14v1m0 5v1m0 11v2m0 9v1m0 21v1m0 25v3m0 7v1m1-104v1m0 30v3m0 10v1m0 21v1m0 24v2m1-94v1m0 29v1m0 13v1m0 21v1m0 23v2m1-93v1m0 15v1m0 5v1m0 7v1m0 13v1m0 21v1m0 36v1m1-83v1m0 21v1m0 21v1m1-46v1m0 21v1m0 21v1m1-51v1m0 13v1m0 51v1m0 20v1m1-51v1m12-48v1m1-6v2m0 33v1m0 178v1m2-214v1m1-2v1m0 1v1m1-5v2m0 34v1m1-38v1m1-2v1m1-2v1m0 36v1m1-40v2m0 36v1m1-40v1m1-2v1m1 37v1m14 213v1m1-252v1m1 23v1m0 4v1m1-30v1m1-2v1m0 22v3m1-27v1m0 21v2m0 3v1m1-29v1m0 19v3m1-24v1m0 17v3m1-22v1m0 16v2m1-20v1m1-2v1m1-2v1m13 22v1m1-2v1m0 70v1m0 51v1m1-81v1m0 34v1m0 43v1m0 27v1m0 36v1m1-187v1m7-5v1m5-4v1m13 200v1m25 14v1m2-187v2m1 3v1m1-7v2m1-6v4m1-8v4m1-5v1m18-7v1m0 187v1m1-190v1m5-2v1m7-5v1m13 54v1m0 7v2m0 28v1m0 26v1m0 58v1m0 6v1m0 22v1m1-193v1m1 46v1m0 28v1m3-32v1m0 28v1m3-32v1m0 28v1m1-31v1m0 28v1m3-32v1m0 28v1m13 4v1m0 37v1m0 41v1m1-23v1m0 28v1m1-23v1m10-4v1m0 6v1m13-98v1m0 13v1m0 21v1m0 56v1m1-95v1m0 6v1m0 6v1m0 7v1m0 13v1m0 51v1m0 6v1m0 6v1m1-29v1m2-147v1m1-6v1m1-5v4m1-8v4m0 6v1m1-13v2m18 86v1m0 43v1m0 11v1m1-21v1m0 6v1m0 116v1m1-199v1m0 89v1m1-87v1m1 0v2m0 83v1m1-84v1m0 80v2m1-82v2m0 77v1m1-2v1m1-2v1m1-72v1m0 69v1m1-2v1m1-2v1m2-6v1m1-45v1m12 27v1m0 27v1m0 123v1m1-249v1m0 80v1m0 6v1m0 6v1m0 27v1m0 6v1m0 34v1m1-171v1m0 15v1m1 3v1m0 65v1m0 6v1m0 7v1m1-103v2m0 14v2m1-20v2m0 3v1m0 9v3m1-20v2m0 12v3m0 72v1m0 6v1m0 7v1m1-107v2m0 10v4m0 74v1m0 6v1m0 7v1m1-108v2m0 10v2m0 77v1m0 6v1m0 7v1m1-108v1m0 90v1m0 6v1m1-9v1m0 6v1m1-9v1m0 6v1m0 8v1m1-2v1m1 29v1m12-48v1m0 38v1m0 13v1m0 41v1m1-89v1m0 30v1m0 13v1m0 34v1m0 6v1m0 13v1m0 67v1m1-227v1m0 38v1m0 4v2m0 7v1m0 21v1m0 3v1m0 1v1m1-94v1m0 3v1m1 2v1m0 20v1m0 22v1m0 5v1m0 1v1m0 4v2m0 21v1m0 5v1m0 6v1m1-102v2m0 3v3m0 25v1m0 16v2m0 4v2m0 5v2m0 21v2m0 5v1m1-97v3m0 4v1m0 5v1m0 16v2m0 19v2m0 5v1m0 6v1m0 22v1m0 6v1m1-98v2m0 4v1m0 19v3m0 5v2m0 15v2m0 6v1m0 5v2m0 21v2m0 6v1m0 7v1m1-107v2m0 4v2m0 43v2m0 7v1m0 5v1m0 21v2m0 7v1m0 7v1m1-108v2m0 4v2m0 43v2m0 7v2m0 4v2m0 20v2m0 8v1m1-49v1m0 8v1m0 5v1m0 21v1m0 9v1m1-40v1m0 37v1m0 8v1m1-11v1m2 7v1m0 15v1m13-35v1m0 96v1m0 6v1m0 6v1m1-116v1m2-1v1m1-2v1m1-2v1m1-2v1m1-3v2m1-3v1m1-2v1m2 110v1m1-9v1m12 4v1m0 6v1m1-16v1m0 6v1m0 6v1m0 6v1m1 6v1m12-33v1m12-16v1m1-2v1m0 5v2m1-7v1m0 11v1m1-14v1m0 6v1m1-9v1m2 5v1m1-9v1m1-2v1m1-2v1m0 7v1m1-2v1m2-10v1m0 15v1m1-18v1m0 7v1m12-18v1m2-6v1m0 6v1m0 6v1m2-14v1m0 5v1m0 6v1m1-15v1m1-2v1m1-2v1m0 6v1m0 6v1m1-16v1m0 6v1m0 6v1m1-16v1m0 6v1m1-9v1m0 6v1m1-9v1m0 6v1m0 7v1m1-17v1m0 6v1m0 7v1m1-17v1m13-97v1m1-35v1m0 121v1m0 6v1m0 6v1m0 6v1m1-30v1m0 2v1m0 6v2m0 6v1m0 6v1m2-111v1m0 79v1m0 7v1m0 6v2m0 5v2m0 5v2m1-141v1m0 28v1m0 78v2m0 2v1m0 3v2m0 2v1m0 2v2m0 2v1m0 2v2m0 2v1m0 3v1m0 2v1m1-143v1m0 28v1m0 77v2m0 6v2m0 6v1m0 6v1m0 7v1m1-111v1m0 76v2m0 7v1m0 6v2m0 5v2m0 6v2m1-112v2m0 75v2m0 7v2m0 6v1m0 6v1m0 7v1m1-138v1m0 26v1m0 76v1m0 7v2m0 6v2m0 5v2m0 6v2m1-138v1m0 26v1m0 84v1m0 7v1m0 6v1m0 7v1m1-110v1m2-29v1m13 77v1m0 6v1m0 6v1m0 6v1m0 14v1m0 6v1m0 6v1m1-56v2m1 5v1m0 28v1m0 63v1m0 44v2m0 2v1m1-149v1m1-11v2m0 7v1m0 1v1m0 3v2m0 1v1m0 3v2m0 1v1m0 4v1m0 6v1m0 6v2m0 1v1m0 4v1m0 1v1m0 4v1m0 49v1m0 44v2m1-157v1m0 7v2m0 5v1m0 6v1m0 6v2m0 5v2m0 6v1m0 6v2m0 5v2m0 49v1m0 43v2m1-157v2m0 7v1m0 5v2m0 5v2m0 6v1m0 6v1m0 6v2m0 6v1m0 6v1m0 50v1m0 42v2m1-156v1m0 8v1m0 5v1m0 6v1m0 7v1m0 6v1m0 6v1m0 7v1m0 6v1m0 50v1m0 41v2m1-155v1m0 8v1m0 5v1m0 6v1m0 6v2m0 5v2m0 6v1m0 6v2m0 5v2m0 50v1m0 40v2m1-155v2m0 7v2m0 4v2m0 5v2m0 6v1m0 6v1m0 6v2m0 6v1m0 6v1m0 51v1m0 40v1m1-154v1m0 8v1m0 5v1m0 6v1m0 7v1m0 6v1m0 6v1m0 7v1m0 6v1m0 51v1m1-104v1m14 27v1m0 7v1m0 20v1m0 129v1m1-145v1m0 20v1m0 52v2m0 13v1m0 13v2m0 5v2m1-124v1m0 6v2m0 20v1m0 5v1m0 14v1m0 6v1m0 6v1m0 14v1m0 13v1m0 6v1m0 29v1m0 13v1m0 7v1m0 6v1m1-73v1m0 13v1m0 14v1m0 6v1m1-132v1m0 7v1m0 7v1m0 12v1m0 7v1m0 5v1m0 6v1m0 7v1m0 6v1m0 6v1m0 6v1m0 7v1m0 6v1m0 6v1m0 13v1m0 7v1m0 6v1m0 7v1m0 13v1m0 7v1m0 6v1m1-169v1m0 7v1m0 6v2m0 1v1m0 10v1m0 7v1m0 1v1m0 3v1m0 14v1m0 6v1m0 6v1m0 14v1m0 13v1m0 36v1m0 21v1m0 6v1m1-169v1m0 6v2m0 6v1m0 13v1m0 6v2m0 5v1m0 14v1m0 6v1m0 6v1m0 14v1m0 13v1m0 7v1m0 28v1m0 21v1m0 6v1m1-169v1m0 6v1m0 6v2m0 13v1m0 6v1m0 6v1m0 7v1m0 6v1m0 6v1m0 6v1m0 7v1m0 6v1m0 7v1m0 5v1m0 14v1m0 7v1m0 6v1m0 6v1m0 14v1m0 6v1m0 6v1m1-169v1m0 6v1m0 6v1m0 14v1m0 6v1m0 14v1m0 28v1m0 14v1m0 20v1m0 7v1m0 6v1m0 21v1m0 6v1m0 6v1m1-170v2m0 6v1m0 6v1m0 13v2m0 5v2m0 14v1m0 28v1m0 14v1m0 14v1m0 13v1m0 6v1m0 21v1m0 6v1m0 6v1m1-170v1m0 6v2m0 5v2m0 13v1m0 6v1m0 8v1m0 6v1m0 7v1m0 6v1m0 6v1m0 6v1m0 7v1m0 13v1m0 7v1m0 28v1m0 13v1m0 6v1m0 6v1m1-170v1m0 6v1m0 6v1m0 14v1m0 6v1m0 8v1m0 6v1m0 7v1m0 6v1m0 6v1m0 6v1m0 7v1m0 13v1m0 14v1m0 21v1m0 13v1m0 6v1m0 6v1m1-170v1m0 6v1m0 21v1m0 15v1m0 6v1m0 7v1m0 6v1m0 6v1m0 6v1m0 7v1m0 7v1m0 5v1m0 14v1m0 7v1m0 6v1m0 6v1m0 13v1m0 6v1m0 6v1m1-73v1m0 14v1m0 13v1m0 6v1m12-46v1m0 20v1m1-131v1m0 21v1m0 6v1m1-72v1m0 58v2m0 12v2m0 10v1m0 23v1m0 21v1m0 14v1m0 6v1m0 6v1m0 6v1m0 18v1m1-192v1m0 41v2m0 27v1m0 14v1m0 13v1m0 34v1m0 51v1m1-123v1m0 13v1m0 56v1m0 15v1m0 5v1m0 14v1m1-175v2m0 41v1m0 1v1m0 19v1m0 1v1m0 4v1m0 1v1m0 4v1m0 6v2m0 13v1m0 13v1m0 20v1m0 15v1m0 5v1m0 7v1m0 6v1m0 6v1m0 7v1m1-191v2m0 2v1m0 38v1m0 21v2m0 5v2m0 5v2m0 6v1m0 13v2m0 13v1m0 35v2m0 13v1m0 13v1m0 6v2m1-192v2m0 41v2m0 21v1m0 6v1m0 6v1m0 7v1m0 13v1m0 14v1m0 35v1m0 14v1m0 13v1m0 6v1m1-192v2m0 42v1m0 22v1m0 6v1m0 6v1m0 6v2m0 13v1m0 14v1m0 21v1m0 13v1m0 7v1m0 6v1m0 7v1m0 5v1m0 6v1m1-193v2m0 43v1m0 22v1m0 6v1m0 6v1m0 6v1m0 14v1m0 36v1m0 13v1m0 7v1m0 14v1m0 5v1m0 5v2m1-194v2m0 43v2m0 21v2m0 5v2m0 6v1m0 5v2m0 14v1m0 50v1m0 22v1m0 5v1m0 5v1m1-193v1m0 44v1m0 22v1m0 6v1m0 7v1m0 5v1m0 15v1m0 15v1m0 34v1m0 15v1m0 6v1m0 5v1m0 5v1m1-125v1m0 6v1m0 7v1m0 21v1m0 15v1m0 21v1m0 12v1m0 8v1m0 6v1m0 6v1m0 5v1m1-66v1m0 21v1m0 12v1m0 8v1m0 6v1m0 6v1m13-4v1m1-71v2m0 10v1m0 72v1m0 6v1m1-79v2m0 6v1m0 7v1m0 35v1m0 14v1m0 6v2m0 9v1m1-5v1m1-95v1m0 13v1m0 6v1m0 7v1m0 6v1m0 28v1m0 14v1m0 6v2m1-120v1m0 29v1m0 6v1m0 1v1m0 19v1m0 6v1m0 28v1m0 14v1m0 6v1m0 7v1m1-138v8m0 33v1m0 6v1m0 20v2m0 6v1m0 28v1m0 13v2m0 6v1m0 6v2m1-141v1m0 1v2m0 9v1m0 30v1m0 6v1m0 7v1m0 6v1m0 5v1m0 7v1m0 21v1m0 6v1m0 13v1m0 7v1m0 6v1m1-96v1m0 5v2m0 7v1m0 6v1m0 5v1m0 7v1m0 28v1m0 13v1m0 7v1m0 6v1m1-90v1m0 15v1m0 4v2m0 6v2m0 28v1m0 12v2m0 6v2m0 5v2m1-90v1m0 15v1m0 4v1m0 7v1m0 23v1m0 5v1m0 12v1m0 7v1m0 6v1m1-94v1m0 4v1m0 9v1m0 5v1m0 4v1m0 7v1m0 29v1m0 12v1m0 7v1m1-87v1m0 14v1m0 5v1m0 12v1m0 29v1m0 20v1m1-87v1m0 58v1m13-141v1m0 116v1m0 6v1m0 6v1m1-137v2m0 33v2m0 84v1m0 6v1m0 6v1m2-135v1m0 34v1m1-37v1m0 1v1m0 32v1m1-37v1m1-3v2m1-3v1m0 36v1m1-39v1m0 36v1m1-39v1m1-3v2m1-3v1m0 38v1m1-41v1m0 38v1m13 35v1m1-2v1m0 159v1m1-196v1m0 208v1m2-210v1m1-3v2m0 35v1m1-39v1m1-3v2m1-3v1m0 38v1m1-41v1m1-3v2m1-3v1m0 40v1m1-2v1m3-3v1"/>
<path stroke="#ff0000" transform="translate(0 .5)" d="M250 325h2m-4 1h2m-4 1h2m-5 2h2m-4 1h2m-8 2h2m1 0h2m33 0h2m-62 1h2m19 0h4m-26 1h2m20 0h6m75 0h2m22 0h2m183 0h2m94 0h3m-411 1h3m18 0h3m79 0h4m19 0h4m50 0h3m125 0h5m95 0h3m76 0h2m-489 1h4m98 0h4m20 0h2m52 0h4m124 0h3m97 0h4m75 0h5m-493 1h3m100 0h3m75 0h3m125 0h2m97 0h3m79 0h2m-350 1h2m37 0h2m-129 1h2m60 0h2m370 0h2m-440 1h2m62 0h2m23 0h2m-91 1h3m0 1h2m56 0h2m23 0h2m172 0h2m98 0h3m152 0h3m-566 1h3m44 0h4m56 0h2m23 0h2m174 0h3m96 0h5m151 0h4m-567 1h4m42 0h2m260 0h3m96 0h3m153 0h3m-566 1h3m101 0h2m23 0h2m177 0h2m253 0h2m-565 1h2m86 0h2m12 0h2m10 0h2m10 1h2m-43 1h2m13 0h3m8 0h2m11 0h3m-114 1h3m67 0h2m12 0h5m7 0h2m14 0h4m202 0h3m74 0h4m-403 1h4m83 0h3m23 0h3m206 0h3m50 0h3m20 0h4m-415 1h2m6 0h5m71 0h2m24 0h2m225 0h2m50 0h4m18 0h3m-415 1h3m2 0h4m328 0h2m53 0h2m-392 1h3m77 0h2m9 0h2m9 0h2m2 0h2m85 0h2m138 0h2m-339 1h7m35 0h2m37 0h3m21 0h2m1 0h2m283 0h2m-315 1h3m9 0h2m13 0h2m23 0h2m-55 1h6m21 0h4m22 0h3m58 0h2m-157 1h2m38 0h3m8 0h2m12 0h3m26 0h2m1 0h2m-4 1h2m-4 1h2m56 0h2m-157 1h2m49 0h2m99 1h2m-108 1h4m38 0h2m59 0h3m-157 1h5m46 0h5m34 0h3m60 0h6m-159 1h4m46 0h4m33 0h3m38 0h2m23 0h4m306 0h3m-467 1h2m12 0h6m30 0h2m34 0h2m39 0h3m9 0h11m3 0h2m309 0h5m-471 1h4m1 0h11m69 0h3m39 0h2m1 0h11m327 0h2m-471 1h6m75 0h5m41 0h3m1 0h2m-130 1h4m63 0h2m7 0h4m47 0h4m333 0h2m-401 1h2m8 0h7m-19 1h2m80 0h2m418 0h3m-540 1h2m1 0h2m109 0h3m294 0h2m124 0h5m-543 1h4m29 0h2m77 0h3m296 0h4m122 0h4m-541 1h2m29 0h2m75 0h4m299 0h3m123 0h2m-437 1h2m1 0h3m-80 1h2m63 0h2m6 0h4m37 0h2m-119 1h3m63 0h2m7 0h6m-82 1h6m59 0h2m48 0h2m330 0h2m-450 1h5m59 0h2m323 0h2m23 0h2m-457 1h2m101 0h2m49 0h2m16 0h2m12 0h4m239 0h4m21 0h4m-357 1h2m67 0h2m7 0h7m121 0h2m120 0h3m22 0h3m-358 1h2m50 0h2m15 0h11m128 0h2m-278 1h2m61 0h2m1 0h2m61 0h2m5 0h6m132 0h3m-315 1h2m98 0h4m15 0h2m32 0h4m20 0h4m107 0h2m23 0h2m-315 1h3m96 0h5m13 0h2m33 0h3m133 0h2m23 0h2m147 0h2m24 0h2m-490 1h3m95 0h8m8 0h3m35 0h6m5 0h2m29 0h3m89 0h2m149 0h4m20 0h3m22 0h2m1 0h2m-489 1h3m28 0h2m77 0h2m37 0h3m36 0h4m92 0h4m146 0h4m21 0h4m20 0h4m-490 1h4m106 0h3m67 0h2m5 0h4m96 0h3m147 0h3m21 0h3m22 0h2m-489 1h2m101 0h2m3 0h3m50 0h2m16 0h2m2 0h5m101 0h2m-189 1h3m1 0h2m69 0h6m106 0h2m-261 1h2m35 0h2m34 0h3m52 0h2m7 0h2m7 0h6m-78 1h2m49 0h3m21 0h4m-156 1h3m34 0h2m33 0h8m47 0h6m303 0h3m23 0h2m-462 1h3m30 0h2m90 0h4m128 0h3m26 0h3m145 0h5m20 0h5m-467 1h4m123 0h2m131 0h4m23 0h5m145 0h4m21 0h3m-466 1h2m32 0h2m100 0h2m123 0h4m24 0h3m145 0h3m22 0h2m-202 1h2m25 0h3m-261 1h2m256 0h2m-264 1h4m258 0h2m-264 1h5m98 0h5m303 0h3m-415 1h4m100 0h4m153 0h4m147 0h3m-416 1h2m102 0h2m156 0h3m148 0h4m-155 1h2m148 0h3m-371 3h2m-4 1h2m216 0h3m151 0h3m-378 1h3m166 0h5m47 0h3m151 0h4m-381 1h2m168 0h4m49 0h4m24 0h3m123 0h3m-383 1h3m170 0h2m50 0h3m24 0h5m122 0h3m-384 1h2m254 0h2m-263 1h5m-6 1h4m256 0h2m-263 1h7m177 0h3m-3 1h4m46 0h3m-310 1h5m147 0h3m101 0h3m48 0h4m-309 1h2m146 0h4m7 0h11m134 0h3m-310 1h3m147 0h12m-10 1h3m0 1h2m89 0h2m-4 1h2m-4 1h2m-4 1h2m-5 2h2m-4 1h2m-4 1h2m12 0h2m-19 1h3m12 0h2m-247 1h4m225 0h6m8 0h2m63 0h2m-308 1h2m63 0h3m109 0h3m46 0h3m10 0h2m65 0h3m101 0h4m-413 1h2m57 0h5m110 0h4m58 0h2m67 0h4m23 0h3m74 0h3m-416 1h4m48 0h2m3 0h6m113 0h2m2 0h20m38 0h2m68 0h3m27 0h2m72 0h3m-416 1h2m49 0h7m121 0h4m49 0h2m3 0h2m99 0h2m73 0h2m-365 1h5m126 0h3m47 0h2m1 0h3m99 0h2m-285 1h4m176 0h2m101 0h2m128 0h2m-245 1h2m7 0h4m13 0h2m59 0h2m153 0h3m-310 1h3m59 0h3m6 0h3m14 0h3m25 0h2m34 0h5m22 0h2m75 0h2m49 0h3m-310 1h3m55 0h4m23 0h3m24 0h4m36 0h4m22 0h5m73 0h4m47 0h4m-312 1h5m51 0h3m24 0h3m23 0h4m39 0h3m24 0h3m74 0h4m47 0h3m-310 1h3m46 0h2m2 0h3m24 0h3m18 0h2m2 0h4m147 0h2m-210 1h5m21 0h6m20 0h5m-58 1h5m21 0h4m22 0h6m-130 1h3m71 0h5m18 0h7m-107 1h7m201 0h2m-286 1h3m71 0h8m19 0h3m179 0h4m-289 1h4m6 0h11m56 0h10m14 0h5m179 0h3m-289 1h11m69 0h2m6 0h7m6 0h24m217 0h2m-342 1h3m90 0h4m4 0h4m-103 1h2m100 0h2m65 1h2m-5 1h3m113 0h3m48 0h2m-336 1h3m35 0h5m75 0h3m43 0h3m116 0h3m47 0h6m-342 1h5m24 0h2m5 0h5m75 0h5m44 0h2m119 0h4m46 0h4m-342 1h2m3 0h21m3 0h3m1 0h5m69 0h2m4 0h5m46 0h3m120 0h3m47 0h2m5 0h2m-344 1h5m20 0h2m1 0h3m73 0h7m45 0h2m1 0h3m-158 1h2m18 0h4m1 0h2m72 0h5m47 0h4m-131 1h4m74 0h3m12 0h2m31 0h7m-42 1h2m216 0h2m-411 1h3m186 0h2m217 0h6m-414 1h3m183 0h3m219 0h4m-228 1h2m221 0h2m-408 1h2m178 0h3m-185 1h2m36 0h2m138 0h4m-5 1h4m-5 1h7m227 0h3m-183 1h2m178 0h5m-188 1h5m177 0h5m-382 1h2m191 0h2m3 0h10m169 0h2m-184 1h4m9 0h10m-211 1h2m189 0h2m90 0h2m73 0h2m-80 2h2m-296 1h5m5 0h2m40 0h2m23 0h2m289 0h2m-370 1h4m46 0h3m21 0h4m213 0h2m-294 1h2m47 0h2m1 0h2m19 0h2m2 0h11m202 0h2m-285 1h2m39 0h2m2 0h20m3 0h4m9 0h7m270 0h2m-317 1h4m23 0h3m207 0h2m-236 1h2m227 0h2m13 0h2m73 0h2m-371 1h2m277 0h4m75 0h2m-362 1h3m73 0h4m201 0h3m9 0h2m63 0h3m-359 1h3m46 0h3m19 0h6m203 0h4m5 0h2m67 0h3m4 0h2m-370 1h4m46 0h4m21 0h11m194 0h3m75 0h4m-363 1h2m47 0h2m2 0h20m5 0h2m7 0h7m196 0h2m66 0h2m-309 1h4m25 0h2m12 0h4m267 0h2m-313 1h2m231 0h2m-6 1h4m11 0h2m-120 1h4m99 0h3m10 0h2m62 0h3m-186 1h3m1 0h2m99 0h6m6 0h2m64 0h5m-187 1h2m1 0h4m96 0h3m8 0h2m65 0h3m-353 1h2m169 0h3m2 0h6m99 0h2m-101 1h6m91 0h2m-272 1h2m177 0h4m83 0h4m-272 1h2m265 0h3m-283 1h3m8 0h2m266 0h6m-285 1h2m1 0h2m4 0h2m267 0h3m-282 1h4m-4 1h2m5 0h2m-4 1h2m-4 1h2m-6 1h4m319 0h2m23 0h2m-349 1h2m152 0h2m164 0h2m23 0h2m-347 1h4m73 0h2m72 0h4m163 0h2m-324 1h4m74 0h4m71 0h2m2 0h4m159 0h2m24 0h2m-272 1h2m2 0h11m63 0h2m1 0h2m2 0h7m-91 1h2m1 0h2m9 0h11m54 0h3m9 0h6m143 0h2m24 0h2m-266 1h3m76 0h2m14 0h4m137 0h2m24 0h2m-262 1h2m228 0h4m10 0h2m-308 1h2m160 0h7m122 0h3m23 0h4m-323 1h2m62 0h2m74 0h4m21 0h4m47 0h5m71 0h7m6 0h2m12 0h5m-326 1h2m61 0h4m73 0h4m24 0h4m44 0h5m72 0h4m23 0h3m-325 1h2m61 0h2m2 0h6m70 0h7m24 0h3m42 0h7m80 0h2m-310 1h2m64 0h2m1 0h2m4 0h10m61 0h2m4 0h5m22 0h2m42 0h2m3 0h6m72 0h2m-310 1h2m68 0h3m14 0h6m66 0h5m19 0h3m50 0h5m-243 1h2m72 0h2m90 0h3m19 0h2m53 0h3m61 0h2m-312 1h3m13 0h2m175 0h2m6 0h8m20 0h5m73 0h3m-311 1h6m9 0h2m61 0h2m48 0h4m18 0h8m38 0h2m5 0h5m20 0h5m75 0h5m-314 1h3m10 0h3m60 0h4m24 0h3m19 0h3m1 0h2m20 0h2m2 0h2m47 0h5m20 0h4m74 0h3m-300 1h2m61 0h2m2 0h6m17 0h5m21 0h2m1 0h3m21 0h3m1 0h4m48 0h3m19 0h5m-229 1h3m64 0h2m1 0h2m4 0h10m5 0h2m3 0h11m14 0h3m1 0h5m17 0h2m5 0h4m47 0h3m21 0h3m-238 1h2m2 0h2m69 0h3m14 0h6m1 0h5m9 0h10m13 0h4m24 0h3m47 0h3m21 0h3m-242 1h5m73 0h2m24 0h2m35 0h5m22 0h4m46 0h2m22 0h3m-246 1h4m143 0h3m23 0h2m29 0h7m10 0h3m5 0h7m10 0h3m-250 1h7m12 0h2m109 0h4m72 0h4m15 0h2m4 0h4m15 0h2m4 0h7m-247 1h3m60 0h4m22 0h3m19 0h6m74 0h4m21 0h5m20 0h5m24 0h2m-274 1h2m59 0h4m1 0h2m21 0h4m21 0h8m75 0h3m19 0h2m2 0h3m18 0h2m2 0h3m18 0h3m280 0h3m-558 1h3m62 0h2m1 0h6m16 0h2m2 0h10m14 0h3m4 0h5m73 0h2m24 0h2m23 0h4m12 0h11m272 0h4m6 0h11m-577 1h3m67 0h3m4 0h10m8 0h4m8 0h10m6 0h3m7 0h6m69 0h2m24 0h3m24 0h3m10 0h4m6 0h11m260 0h11m-571 1h2m1 0h2m72 0h2m13 0h5m6 0h2m39 0h3m68 0h3m24 0h3m24 0h4m8 0h4m277 0h4m-567 1h4m13 0h2m160 0h3m20 0h8m9 0h2m7 0h3m15 0h2m26 0h2m-277 1h6m10 0h2m111 0h4m48 0h5m21 0h3m12 0h2m6 0h6m13 0h2m6 0h5m-248 1h2m89 0h2m19 0h6m49 0h4m20 0h6m13 0h2m5 0h4m20 0h5m24 0h2m-274 1h2m88 0h4m21 0h6m52 0h2m19 0h3m2 0h2m19 0h2m1 0h3m18 0h5m20 0h4m-275 1h2m88 0h12m16 0h3m2 0h5m49 0h2m18 0h2m4 0h2m23 0h2m18 0h2m1 0h3m15 0h12m-283 1h2m91 0h4m7 0h12m14 0h4m47 0h2m24 0h2m23 0h2m22 0h3m13 0h4m7 0h12m-297 1h2m95 0h4m35 0h4m45 0h2m24 0h2m23 0h3m22 0h4m11 0h4m-284 1h4m140 0h3m29 0h8m7 0h2m8 0h8m8 0h2m9 0h3m12 0h2m24 0h3m-273 1h3m175 0h4m12 0h2m24 0h2m8 0h6m10 0h2m6 0h7m12 0h2m-276 1h6m12 0h2m84 0h4m47 0h4m21 0h4m21 0h4m14 0h2m7 0h4m13 0h2m5 0h4m-245 1h3m26 0h4m53 0h5m46 0h5m24 0h2m1 0h2m20 0h5m21 0h2m2 0h2m19 0h6m-252 1h4m13 0h2m8 0h6m58 0h10m41 0h7m26 0h2m19 0h2m2 0h2m25 0h3m17 0h2m3 0h3m-258 1h3m15 0h3m3 0h6m66 0h2m6 0h7m36 0h2m3 0h6m22 0h2m23 0h2m26 0h2m23 0h2m-266 1h2m1 0h3m16 0h2m1 0h5m87 0h4m43 0h5m19 0h2m23 0h3m25 0h2m23 0h3m-271 1h5m18 0h4m1 0h2m141 0h3m3 0h4m11 0h2m24 0h2m25 0h2m24 0h3m6 0h4m-285 1h7m21 0h4m150 0h4m9 0h2m24 0h2m7 0h7m11 0h2m25 0h2m5 0h7m-107 1h3m12 0h2m24 0h2m6 0h4m15 0h2m4 0h7m20 0h4m-242 1h3m133 0h5m39 0h2m5 0h5m20 0h4m23 0h2m1 0h2m-250 1h6m137 0h2m2 0h2m45 0h2m2 0h3m19 0h5m25 0h2m-263 1h2m4 0h5m149 0h2m50 0h2m22 0h3m24 0h2m-267 1h8m156 0h3m49 0h3m22 0h2m24 0h2m-270 1h5m163 0h2m50 0h3m21 0h3m23 0h2m-270 1h5m146 0h7m10 0h2m33 0h5m13 0h2m22 0h3m7 0h7m8 0h2m-117 1h2m13 0h2m32 0h6m13 0h2m3 0h7m13 0h2m6 0h4m12 0h2m-256 1h3m132 0h4m15 0h2m31 0h5m19 0h5m23 0h4m13 0h2m5 0h6m-275 1h6m136 0h2m1 0h3m46 0h2m2 0h3m17 0h3m1 0h4m23 0h2m19 0h7m-288 1h2m4 0h5m148 0h2m51 0h2m23 0h3m22 0h3m17 0h2m4 0h4m-294 1h8m155 0h3m50 0h3m23 0h4m21 0h2m25 0h5m-300 1h5m162 0h3m50 0h3m24 0h4m19 0h2m28 0h3m-301 1h5m163 0h2m7 0h7m37 0h2m26 0h2m19 0h2m-121 1h7m12 0h3m9 0h2m23 0h3m13 0h2m32 0h4m11 0h2m-119 1h2m16 0h2m4 0h4m21 0h5m22 0h4m20 0h5m14 0h2m-259 1h3m133 0h3m1 0h3m21 0h4m20 0h6m17 0h5m23 0h5m-249 1h5m137 0h2m4 0h2m19 0h2m2 0h3m18 0h2m3 0h4m14 0h8m20 0h2m2 0h3m-263 1h3m3 0h5m150 0h3m23 0h3m24 0h4m12 0h2m4 0h5m22 0h3m-267 1h7m158 0h3m23 0h2m26 0h4m19 0h6m19 0h4m-272 1h6m163 0h2m23 0h3m27 0h2m23 0h3m20 0h3m-120 1h4m12 0h3m5 0h7m11 0h2m76 0h2m-125 1h3m2 0h2m15 0h2m4 0h4m15 0h2m31 0h4m22 0h4m-244 1h3m135 0h3m22 0h2m1 0h3m43 0h5m21 0h5m-248 1h5m136 0h8m25 0h3m41 0h7m19 0h7m-261 1h2m3 0h5m143 0h2m4 0h4m24 0h3m40 0h2m3 0h6m15 0h2m3 0h4m-267 1h7m158 0h4m23 0h3m48 0h5m19 0h5m-273 1h5m165 0h4m22 0h3m50 0h3m21 0h3m-273 1h3m168 0h2m23 0h2m-46 1h4m22 0h4m-167 1h3m131 0h6m21 0h5m-171 1h5m135 0h8m19 0h7m-184 1h2m3 0h5m142 0h2m4 0h5m15 0h2m4 0h6m-192 1h7m149 0h2m7 0h6m21 0h5m-198 1h5m167 0h3m23 0h3m-199 1h4m173 1h6m-30 1h4m21 0h5m-33 1h6m23 0h2m2 0h3m-35 1h11m24 0h4m-37 1h2m7 0h7m21 0h3m-38 1h2m12 0h4m20 0h4m0 1h2"/>
<path stroke="#ff0000" transform="translate(.5 0)" d="M207 353v1m3 106v2m0 1v1m1-126v1m0 11v1m0 105v2m2-117v2m0 4v1m0 109v1m1-2v1m0 3v1m1-130v2m0 8v2m0 112v1m0 3v1m1-131v2m0 4v1m0 2v3m0 112v2m1-127v1m0 7v2m0 5v1m0 108v1m1-127v2m0 5v3m0 115v1m1-127v1m0 4v3m0 116v2m1-128v2m0 3v2m0 118v1m1-128v2m0 3v2m0 119v1m1-128v1m0 124v2m1-3v1m1-2v1m8 57v1m1-2v1m1-71v1m0 49v1m0 16v1m1-112v1m0 31v1m0 10v1m0 48v1m0 19v1m1-168v1m0 29v2m0 51v1m0 1v1m0 9v2m0 42v2m0 4v2m0 19v1m0 4v1m0 10v1m0 12v1m0 7v1m1-205v1m0 29v1m0 21v1m0 29v2m0 55v1m0 21v2m0 19v1m0 5v1m0 6v1m0 7v1m0 6v1m1-179v1m0 51v1m0 56v1m1-111v1m0 21v1m0 29v1m0 13v1m0 42v1m0 6v1m0 14v1m1-162v1m0 50v1m0 28v2m0 13v1m0 42v1m0 6v1m0 14v1m1-111v1m0 28v1m0 14v1m0 42v1m0 21v1m1-132v1m0 20v1m0 28v1m0 14v1m1-67v1m0 49v1m0 14v1m0 50v1m1-68v1m0 14v1m0 43v1m0 6v1m0 14v1m0 6v1m1-168v1m0 49v1m0 27v1m0 14v1m0 43v1m0 21v1m1-132v1m0 20v1m0 27v1m0 14v1m0 43v1m0 21v1m1-132v1m0 20v1m0 26v2m0 14v1m0 43v1m0 7v1m0 13v1m1-111v1m0 26v1m0 15v1m0 51v1m0 13v1m1-111v1m0 26v1m0 15v1m0 65v1m1-131v1m0 19v1m0 26v1m0 15v1m0 44v1m0 20v1m1-131v1m0 19v1m0 42v1m0 44v1m0 7v1m0 12v1m1-158v1m0 142v1m0 38v1m1-17v1m7-149v1m0 31v1m0 18v1m1-3v1m0 169v1m1-223v1m0 2v1m0 27v1m0 18v2m0 155v1m0 6v1m1-186v2m0 21v1m0 169v1m0 6v1m0 6v1m1-236v1m0 29v1m1-2v1m1-2v1m0 20v1m1-52v1m0 28v1m0 20v1m1-52v1m0 27v2m0 20v1m1-52v1m0 27v1m1-30v1m0 27v1m1-30v1m0 27v1m0 22v1m1-53v1m0 27v1m0 22v1m1-25v1m0 22v1m1-25v1m1-29v1m0 26v1m1-29v1m0 26v1m0 23v1m1-53v1m0 50v1m10-20v1m0 13v1m0 21v1m1-45v1m0 6v1m0 13v1m0 21v1m0 33v1m2-70v1m1 12v1m1-23v1m0 43v1m1-38v1m1-2v1m1-9v1m0 43v1m1-24v1m1-16v1m3-10v1m0 6v1m0 36v1m3-47v1m0 6v1m0 14v1m0 21v1m7-34v1m1-10v2m0 6v1m1-10v1m0 63v1m1-59v1m0 56v1m1-72v1m0 8v1m0 18v1m1-34v1m2-2v2m1-4v2m0 20v1m1-24v1m0 14v1m1-18v2m1-4v2m0 23v1m1-28v2m1-4v2m1-3v1m0 20v1m2 5v1m3-10v1m0 6v1m2 129v1m3-85v1m1-2v1m1-42v1m0 10v1m1-24v1m0 9v1m0 10v1m1-13v1m0 40v1m1-55v1m0 11v1m0 8v1m0 26v1m0 159v1m1-210v1m1 0v1m0 12v1m0 8v1m1-24v1m0 1v1m0 19v1m1-24v1m0 21v1m1-24v1m0 13v1m0 7v1m1-24v1m0 21v1m1-24v1m0 21v1m1-24v1m0 21v1m1-24v1m0 21v1m1-24v1m0 15v1m0 5v1m1-24v1m0 21v1m1-24v1m0 21v1m1-24v1m0 16v1m0 4v1m1-2v1m2-7v1m8 195v1m1-15v1m0 14v1m1-162v1m0 73v1m1-7v1m2-1v1m1-2v1m1-2v1m1-2v1m1-2v1m1-2v1m1-3v2m1-3v1m1-2v1m1-2v1m12-71v1m0 28v1m0 70v1m1-102v1m0 21v1m0 6v1m0 8v1m0 41v1m0 11v1m0 7v1m0 51v1m0 6v1m0 21v1m1-145v1m0 36v2m1-103v2m0 4v1m0 58v1m1-17v1m0 14v1m0 37v1m1-102v1m0 25v1m0 28v1m0 6v1m0 37v1m1-104v3m0 98v2m0 3v1m1-109v2m0 4v1m0 44v1m0 50v1m1-106v3m0 29v1m0 28v1m0 6v1m0 34v2m1-107v2m0 31v1m0 28v1m0 6v1m0 34v1m1-107v2m0 54v1m0 13v1m0 33v2m1-108v2m0 69v1m0 33v1m1-71v1m0 28v1m0 38v2m1-71v1m0 21v1m0 6v1m0 38v1m1-34v1m1-2v1m1-37v1m0 21v1m0 6v1m6 161v1m0 7v1m0 7v1m0 7v1m1-24v1m2 9v1m1-65v1m0 40v1m0 10v1m0 4v1m0 7v1m0 6v1m0 7v1m1-61v1m0 21v1m0 6v1m14-3v1m1 7v1m6-17v1m0 6v1m0 21v1m3-42v1m0 6v1m0 11v1m0 31v1m0 14v1m1-146v1m0 14v1m0 64v1m0 6v1m0 43v1m0 7v1m0 6v1m1-49v1m16 1v1m5-104v1m1-2v1m2-9v1m0 4v1m0 7v1m0 99v1m1-115v1m0 12v1m0 73v1m0 5v1m0 6v1m0 6v1m0 7v1m0 6v1m0 6v1m0 7v1m7-140v1m9-6v1m7-9v1m1 114v1m0 28v1m1-149v1m0 9v1m0 109v1m0 28v1m0 7v1m1-159v1m0 32v1m0 94v1m0 6v1m0 6v1m0 22v1m1-165v1m0 4v2m1-8v1m1-2v1m0 7v1m1-10v1m0 7v1m1-10v1m0 6v2m1-10v1m0 6v1m1-9v1m0 6v1m1-9v1m0 6v1m1-9v1m0 6v1m1-9v1m0 6v1m1-9v1m0 6v1m1-9v1m0 6v1m1-9v1m9 85v1m2 3v1m0 61v1m0 6v1m1-78v1m0 6v1m0 6v1m0 56v1m0 6v1m0 7v1m1 7v1m1-238v2m0 3v1m0 52v2m0 84v1m1-137v1m0 4v1m0 50v1m1-66v3m0 49v1m0 98v1m1-154v2m0 7v3m0 48v3m0 82v1m1-148v2m0 6v3m0 3v1m0 36v4m0 10v1m1-69v3m0 4v2m0 51v1m0 95v1m1-159v2m0 4v3m0 48v3m1-62v2m0 4v2m0 49v2m1 92v1m2 5v1m1-9v1m2 5v1m0 7v1m1-17v1m8-52v1m0 14v1m0 6v1m1-88v1m0 1v1m0 55v1m0 94v1m0 7v1m1-166v1m0 2v1m0 60v2m0 12v2m0 5v2m0 69v1m0 7v1m0 42v1m1-151v1m1-58v1m0 49v2m0 3v1m0 9v1m0 14v1m0 6v1m1-58v2m0 13v1m0 11v1m0 6v1m0 1v1m0 12v1m0 1v1m0 4v1m0 77v1m1-168v1m0 4v1m0 29v2m0 17v1m0 4v1m0 2v1m0 3v1m0 14v1m0 6v1m1-59v5m0 8v3m0 11v2m0 6v1m0 13v2m0 6v1m1-91v1m0 19v11m0 12v1m0 15v1m0 7v1m0 13v1m0 7v1m0 71v1m1-163v1m0 36v2m0 10v3m0 7v1m0 7v1m0 13v1m0 7v1m1-91v1m0 47v2m0 9v1m0 7v1m0 13v1m0 7v1m0 79v1m1-172v2m0 46v2m0 10v1m0 7v1m0 13v1m0 7v1m1-92v1m0 58v2m0 7v1m0 13v1m0 7v1m1-93v2m0 58v1m0 8v1m0 13v1m0 7v1m0 80v1m1-174v1m0 59v1m0 8v1m0 13v1m0 7v1m1-24v1m0 13v1m0 7v1m1 80v1m1-8v1m9-45v1m0 51v1m1-75v1m0 6v1m0 6v1m0 58v1m1-100v1m0 1v1m0 1v2m0 1v1m0 14v2m0 1v1m0 3v1m0 5v2m0 5v2m1-43v1m0 98v1m1-96v1m0 16v2m0 5v1m0 6v1m0 6v1m1-44v2m0 18v2m0 5v2m0 5v2m0 1v1m0 4v1m0 2v1m1-48v2m0 19v1m0 4v1m0 1v1m0 3v1m0 2v1m0 7v1m1-46v2m0 19v2m0 6v1m0 6v1m0 6v2m1-48v3m0 19v2m0 6v2m0 5v2m0 6v1m0 58v1m1-107v2m0 20v2m0 7v1m0 6v1m0 7v1m1-49v2m0 21v1m0 8v1m0 6v1m0 7v1m1-50v2m0 21v2m0 7v2m0 5v2m0 7v1m0 59v1m1-111v2m0 21v2m0 8v1m0 6v1m0 7v2m1-28v1m0 9v1m0 6v1m0 7v1m1-2v1m2 60v1m8-19v1m1-3v1m1-3v2m0 6v2m1-3v1m1 1v1m1-137v1m0 127v1m0 6v1m1-133v2m0 122v1m1-128v1m0 5v1m1-11v4m0 4v1m0 128v1m1-143v1m0 2v1m0 130v1m0 6v1m1-147v5m0 10v1m0 122v1m1-142v3m1 144v1m1-9v1m0 6v1m1-9v1m2 5v1m1-9v1m0 6v1m1-9v1m9-130v1m1 6v1m0 6v1m0 96v1m0 6v1m1-125v2m0 6v2m0 5v2m0 99v1m0 6v1m0 6v2m1-15v1m0 6v1m1-124v1m0 7v1m0 6v1m0 99v1m0 6v1m0 7v1m1-132v1m0 2v1m0 3v2m0 5v2m0 99v1m0 6v1m0 7v1m1-132v1m0 6v1m0 3v1m0 2v1m0 115v1m1-133v2m0 5v2m0 6v1m0 115v1m1-133v1m0 6v1m0 6v2m0 101v1m0 6v1m0 6v1m1-133v1m0 5v2m0 6v1m0 102v1m0 6v1m0 6v1m1-133v1m0 5v1m0 7v1m0 102v1m0 6v1m0 6v1m1-133v1m0 5v1m0 6v2m0 102v1m0 6v1m0 6v1m1-134v2m0 4v2m0 6v1m0 103v1m0 6v1m0 6v1m1-134v1m0 5v1m0 7v1m0 103v1m0 6v1m0 6v1m1-134v1m0 117v1m0 6v1m0 6v1m1-16v1m0 6v1m12-13v1m0 6v1m1-14v2m0 5v2m2-8v1m0 6v1m1-9v1m0 5v2m1-10v2m0 4v2m0 3v1m1-13v1m0 5v1m1-9v2m0 4v2m1-9v1m0 5v1m1-9v2m0 4v2m1-9v1m0 4v2m1-9v2m0 4v1m1-8v1m14-42v1m0 6v1m0 6v1m1-20v2m0 5v2m0 5v2m2-16v2m0 5v2m0 6v1m1-17v1m0 2v1m0 3v1m0 2v1m0 3v2m1-18v2m0 5v2m0 6v1m1-18v2m0 6v1m0 7v1m1-18v1m0 7v1m0 6v2m1-19v2m0 6v2m0 6v1m1-18v1m0 7v1m0 7v1m1-19v2m0 6v2m0 6v2m1-19v1m0 7v1m0 7v1m13 14v1m0 7v1m0 6v1m1-23v1m0 28v1m0 28v1m1-77v1m0 2v2m0 1v1m0 6v2m0 5v1m0 6v2m0 5v2m1-65v1m0 2v2m0 1v1m0 64v1m1-39v1m0 9v1m0 5v1m0 7v1m0 6v1m1-66v2m0 3v1m0 23v2m0 11v2m0 1v1m0 3v1m0 2v1m0 3v2m0 6v1m0 2v1m0 3v2m0 27v1m1-104v3m0 27v2m0 12v1m0 5v2m0 6v1m0 6v2m0 6v1m0 27v2m0 3v1m1-109v2m0 28v2m0 13v1m0 5v1m0 7v1m0 6v1m0 7v1m0 27v1m1-105v2m0 27v3m0 14v1m0 5v1m0 6v2m0 6v1m0 6v2m0 27v1m1-107v3m0 27v2m0 15v1m0 6v1m0 6v1m0 7v1m0 6v1m0 27v2m1-108v2m0 28v2m0 16v1m0 6v1m0 6v1m0 7v1m0 6v1m0 27v1m1-108v2m0 28v2m0 16v2m0 5v2m0 5v2m0 6v2m0 5v2m0 26v2m1-79v2m0 17v1m0 6v1m0 6v1m0 7v1m0 6v1m0 27v1m1-59v1m0 6v1m0 6v1m0 7v1m0 6v1m11-7v1m2-5v1m1-3v2m0 7v1m1-2v1m1 0v1m1-9v1m0 6v1m1-9v1m0 6v1m1-9v1m0 6v1m1-9v1m0 6v1m1-9v1m0 6v1m1-9v1m0 6v1m1-2v1m1-2v1m1-8v1m0 5v1m1-8v1m0 5v1m1-8v1m0 5v1m1-8v1m39-34v2m0 4v1m2-7v2m1-5v3m1-5v2m0 5v1m1-11v3m1-5v2m1-4v2m17 38v2m2-1v1m1-2v1m1-2v1m1-2v1m1-2v1m1-2v1m1-2v1m1-2v1m1-2v1m1-2v1m1-2v1m1-2v1"/>
<path stroke="#000000" transform="translate(0 .5)" d="M551 326h2m-2 1h2m-3 1h2m-2 1h2m24 0h2m-222 1h2m218 0h2m81 0h2m-307 1h2m220 0h2m-2 1h2m-227 1h2m318 0h2m-324 1h2m224 0h2m94 0h3m-130 1h2m29 0h2m76 0h2m16 0h5m-330 1h2m196 0h4m1 0h2m24 0h2m95 0h3m126 0h3m-460 1h2m199 0h5m25 0h2m93 0h2m129 0h5m-464 1h2m231 0h2m226 0h3m-231 1h2m227 0h2m-471 1h2m2 0h2m203 0h2m50 0h4m47 0h2m154 0h2m-469 1h3m235 0h2m20 0h6m199 0h2m-467 1h2m208 0h3m25 0h2m23 0h3m42 0h3m6 0h2m17 0h2m127 0h2m-488 1h2m19 0h5m205 0h5m23 0h2m70 0h3m21 0h4m22 0h4m24 0h3m1 0h2m73 0h3m-493 1h3m15 0h5m212 0h2m24 0h2m67 0h4m27 0h2m22 0h4m22 0h5m72 0h5m-491 1h2m257 0h2m66 0h2m28 0h2m26 0h3m100 0h2m-554 1h2m60 0h2m232 0h2m21 0h4m1 0h3m20 0h2m69 0h3m26 0h2m-451 1h2m61 0h2m233 0h2m21 0h8m118 0h2m25 0h2m76 0h2m-230 1h4m67 0h4m47 0h2m-451 1h2m14 0h3m309 0h3m69 0h2m47 0h2m26 0h3m-482 1h2m17 0h2m309 0h3m71 0h2m20 0h4m22 0h3m26 0h2m2 0h2m-495 1h2m4 0h2m19 0h3m165 0h2m141 0h3m69 0h2m24 0h3m1 0h2m17 0h2m1 0h2m23 0h3m1 0h2m-493 1h4m1 0h2m20 0h2m306 0h7m66 0h2m28 0h3m20 0h2m1 0h3m23 0h2m-493 1h2m1 0h4m18 0h3m94 0h2m212 0h6m65 0h2m28 0h2m25 0h3m22 0h3m-493 1h5m116 0h2m70 0h2m145 0h3m52 0h2m38 0h3m25 0h2m23 0h2m6 0h2m-498 1h3m1 0h2m112 0h3m219 0h3m117 0h3m24 0h2m-488 1h4m111 0h2m222 0h2m52 0h2m14 0h2m75 0h3m5 0h2m-499 1h5m111 0h2m73 0h2m149 0h2m51 0h2m16 0h2m23 0h4m24 0h3m21 0h2m-379 1h3m225 0h3m43 0h2m6 0h2m16 0h4m23 0h3m23 0h2m1 0h2m20 0h3m-383 1h2m225 0h4m1 0h3m41 0h4m22 0h3m26 0h2m24 0h2m20 0h2m4 0h2m-390 1h3m76 0h2m149 0h8m43 0h3m18 0h3m27 0h2m45 0h3m-388 1h2m1 0h3m73 0h2m159 0h4m16 0h4m24 0h3m16 0h2m26 0h3m26 0h2m18 0h2m-384 1h2m75 0h2m159 0h4m16 0h7m17 0h4m-208 1h3m158 0h2m20 0h3m18 0h5m-363 1h4m31 0h2m34 0h9m74 0h2m155 0h2m1 0h3m41 0h5m48 0h2m50 0h3m-464 1h4m149 0h3m153 0h2m1 0h3m41 0h6m49 0h2m48 0h2m1 0h3m-467 1h3m91 0h2m53 0h5m155 0h7m42 0h3m48 0h3m51 0h2m-468 1h3m67 0h2m23 0h2m54 0h2m160 0h5m41 0h2m53 0h2m47 0h3m-398 1h2m245 0h3m17 0h2m75 0h2m-348 1h2m24 0h2m221 0h3m49 0h2m42 0h2m-323 1h2m224 0h2m-292 1h4m33 0h2m198 0h5m46 0h3m70 0h2m-379 1h2m16 0h4m29 0h2m24 0h2m174 0h4m47 0h3m49 0h2m17 0h4m-361 1h3m256 0h7m17 0h4m51 0h2m21 0h2m75 0h3m-443 1h2m16 0h2m12 0h2m10 0h2m216 0h5m18 0h3m1 0h2m1 0h2m14 0h2m26 0h4m1 0h3m17 0h2m78 0h5m-448 1h2m26 0h2m2 0h2m233 0h2m21 0h3m17 0h4m24 0h6m17 0h2m82 0h2m-430 1h2m9 0h4m11 0h2m7 0h2m2 0h2m254 0h4m25 0h3m15 0h2m-346 1h2m12 0h2m10 0h2m8 0h2m1 0h2m232 0h2m2 0h3m-316 1h2m48 0h4m20 0h2m233 0h2m2 0h2m150 0h2m-469 1h6m3 0h2m24 0h2m12 0h6m6 0h2m15 0h3m280 0h4m22 0h2m-387 1h3m43 0h2m24 0h5m235 0h4m43 0h4m20 0h3m1 0h2m-392 1h3m30 0h2m24 0h2m11 0h3m238 0h5m15 0h2m27 0h3m2 0h2m20 0h2m-401 1h2m7 0h2m26 0h2m2 0h2m24 0h2m13 0h2m239 0h5m44 0h6m-342 1h2m23 0h2m17 0h2m152 0h2m89 0h3m47 0h2m18 0h3m-387 1h2m23 0h4m23 0h3m12 0h2m156 0h4m84 0h4m47 0h2m-381 1h2m13 0h4m22 0h2m36 0h3m162 0h3m81 0h3m-314 1h4m20 0h4m21 0h5m6 0h2m168 0h4m51 0h6m17 0h2m1 0h3m47 0h2m22 0h2m-387 1h3m17 0h4m21 0h4m9 0h2m174 0h4m47 0h5m18 0h4m47 0h4m20 0h3m1 0h2m-410 1h2m16 0h3m55 0h3m180 0h3m5 0h2m62 0h4m45 0h6m21 0h2m-392 1h2m15 0h2m33 0h2m3 0h2m39 0h2m145 0h4m1 0h3m62 0h3m47 0h3m-316 1h2m1 0h2m16 0h2m21 0h2m151 0h2m135 0h3m-410 1h2m72 0h2m16 0h2m21 0h2m153 0h2m3 0h2m109 0h2m-390 1h3m73 0h2m13 0h3m21 0h2m154 0h2m2 0h5m55 0h2m3 0h2m44 0h3m-386 1h2m67 0h8m8 0h3m22 0h2m155 0h5m111 0h3m21 0h2m-413 1h4m5 0h2m24 0h2m50 0h2m23 0h2m226 0h3m44 0h4m22 0h2m-416 1h2m76 0h2m5 0h3m23 0h2m121 0h2m102 0h6m44 0h3m1 0h2m18 0h3m1 0h3m-377 1h2m33 0h2m3 0h3m24 0h2m123 0h4m1 0h2m98 0h4m48 0h2m22 0h3m-342 1h3m1 0h2m25 0h2m11 0h2m114 0h4m101 0h2m-312 1h2m44 0h3m22 0h2m1 0h2m11 0h2m118 0h2m99 0h3m69 0h3m-412 1h4m22 0h3m47 0h2m18 0h3m136 0h2m100 0h3m45 0h2m22 0h2m-409 1h3m22 0h2m42 0h9m12 0h4m17 0h2m30 0h4m83 0h3m102 0h2m-338 1h4m3 0h2m18 0h3m3 0h2m51 0h5m9 0h5m5 0h2m15 0h2m8 0h7m87 0h2m101 0h4m46 0h4m21 0h3m-414 1h2m23 0h5m45 0h2m6 0h5m10 0h4m8 0h2m15 0h3m2 0h7m94 0h4m99 0h5m19 0h4m22 0h4m1 0h2m19 0h3m1 0h2m-394 1h2m15 0h2m36 0h4m42 0h2m1 0h4m102 0h5m97 0h5m21 0h2m1 0h2m22 0h3m22 0h3m-345 1h2m2 0h3m24 0h2m2 0h2m14 0h4m1 0h2m106 0h2m100 0h2m24 0h2m22 0h3m-361 1h2m39 0h4m1 0h2m26 0h3m18 0h6m231 0h2m-363 1h4m22 0h3m41 0h2m2 0h5m24 0h2m15 0h4m260 0h2m22 0h3m-409 1h2m23 0h2m37 0h4m33 0h4m10 0h3m113 0h2m99 0h2m22 0h2m24 0h2m-383 1h2m23 0h3m3 0h2m26 0h4m33 0h4m10 0h4m241 0h2m25 0h3m22 0h3m-414 1h4m21 0h5m21 0h2m6 0h4m47 0h4m246 0h4m23 0h4m21 0h3m-416 1h2m23 0h2m24 0h3m2 0h4m42 0h2m4 0h3m8 0h2m240 0h4m1 0h2m22 0h2m23 0h2m-401 1h2m31 0h2m1 0h4m45 0h2m1 0h4m256 0h3m21 0h2m-359 1h2m7 0h2m6 0h4m1 0h2m44 0h2m1 0h2m259 0h2m21 0h2m-360 1h3m21 0h4m40 0h4m285 0h3m22 0h3m-401 1h2m15 0h2m61 0h4m1 0h9m254 0h2m-331 1h2m56 0h3m21 0h2m222 0h3m20 0h2m25 0h3m22 0h3m-389 1h5m55 0h3m248 0h4m20 0h4m21 0h2m1 0h3m21 0h3m-408 1h2m15 0h2m50 0h2m3 0h4m253 0h3m19 0h4m1 0h2m20 0h4m21 0h4m-375 1h2m32 0h6m90 0h2m190 0h3m21 0h3m23 0h2m-388 1h2m2 0h2m43 0h2m25 0h2m20 0h2m42 0h2m164 0h2m25 0h3m20 0h2m-384 1h2m22 0h2m43 0h2m3 0h2m19 0h2m3 0h2m1 0h2m14 0h3m259 0h2m23 0h4m-412 1h3m23 0h3m41 0h9m14 0h4m5 0h3m13 0h3m44 0h2m191 0h2m50 0h2m-409 1h2m22 0h4m58 0h4m10 0h4m8 0h3m215 0h4m21 0h2m25 0h3m22 0h4m-415 1h4m24 0h3m4 0h2m49 0h4m11 0h2m1 0h3m5 0h4m47 0h2m171 0h2m22 0h3m22 0h2m1 0h2m21 0h4m-416 1h2m24 0h3m48 0h2m4 0h4m14 0h4m5 0h3m49 0h2m174 0h2m21 0h4m1 0h2m20 0h2m24 0h3m-392 1h2m15 0h2m31 0h8m17 0h3m4 0h3m254 0h3m22 0h2m23 0h2m-400 1h2m55 0h2m2 0h2m22 0h2m1 0h3m48 0h2m2 0h2m173 0h3m26 0h2m46 0h3m-383 1h2m39 0h4m2 0h2m17 0h2m2 0h3m23 0h2m19 0h2m7 0h2m226 0h3m-360 1h3m45 0h5m15 0h5m1 0h2m19 0h4m18 0h3m8 0h2m202 0h2m-350 1h2m15 0h2m63 0h4m3 0h5m13 0h4m19 0h3m13 0h2m200 0h2m-332 1h3m3 0h2m51 0h5m22 0h3m19 0h4m11 0h5m203 0h3m22 0h4m-364 1h5m46 0h2m5 0h5m12 0h2m9 0h4m14 0h2m3 0h3m14 0h2m212 0h2m20 0h4m-384 1h2m15 0h2m17 0h2m29 0h4m1 0h4m16 0h3m5 0h4m17 0h2m1 0h3m188 0h2m38 0h4m22 0h4m-377 1h2m55 0h2m2 0h3m21 0h2m1 0h4m20 0h4m231 0h2m-363 1h2m27 0h2m8 0h2m29 0h4m2 0h2m17 0h2m2 0h3m22 0h2m2 0h2m253 0h3m-386 1h4m22 0h3m41 0h3m1 0h5m15 0h5m1 0h2m18 0h11m226 0h3m-359 1h4m5 0h2m15 0h2m7 0h2m28 0h4m22 0h4m3 0h5m13 0h3m-121 1h5m24 0h2m32 0h4m21 0h5m21 0h4m198 0h2m42 0h3m22 0h4m-390 1h2m24 0h4m5 0h2m14 0h2m6 0h5m13 0h2m5 0h5m12 0h2m8 0h4m247 0h3m1 0h2m22 0h2m-384 1h2m15 0h2m17 0h2m9 0h4m16 0h4m1 0h4m16 0h3m5 0h3m253 0h2m23 0h2m-375 1h2m14 0h2m14 0h2m2 0h3m18 0h2m2 0h3m21 0h2m1 0h4m217 0h2m-325 1h2m23 0h2m12 0h2m4 0h4m1 0h2m18 0h4m2 0h2m17 0h2m2 0h3m23 0h2m183 0h2m71 0h3m-384 1h2m23 0h2m20 0h4m21 0h5m15 0h5m1 0h2m19 0h4m195 0h2m35 0h3m-359 1h2m7 0h2m14 0h2m8 0h2m58 0h8m13 0h4m186 0h3m75 0h3m-386 1h3m22 0h3m60 0h6m17 0h4m193 0h2m5 0h2m39 0h4m24 0h2m-390 1h5m20 0h5m5 0h2m40 0h2m7 0h6m10 0h2m7 0h4m193 0h4m5 0h2m43 0h2m25 0h3m-393 1h2m7 0h2m8 0h2m4 0h2m19 0h2m29 0h3m1 0h6m15 0h2m4 0h4m196 0h2m42 0h2m10 0h2m23 0h2m-358 1h2m43 0h3m19 0h8m207 0h2m9 0h2m58 0h3m-361 1h2m13 0h2m29 0h2m3 0h2m21 0h3m255 0h3m-358 1h2m8 0h2m11 0h4m41 0h4m2 0h2m16 0h2m4 0h2m205 0h4m9 0h2m23 0h2m-346 1h2m23 0h2m9 0h2m35 0h5m14 0h5m2 0h2m22 0h3m1 0h2m178 0h2m-307 1h2m21 0h4m68 0h5m15 0h6m2 0h3m180 0h3m5 0h2m41 0h2m-364 1h5m5 0h2m13 0h6m70 0h2m12 0h5m6 0h2m1 0h2m176 0h5m5 0h2m24 0h2m15 0h4m-365 1h2m18 0h2m3 0h2m9 0h2m62 0h4m7 0h5m9 0h2m3 0h22m155 0h2m55 0h2m-358 1h2m36 0h2m54 0h2m1 0h6m16 0h5m183 0h2m9 0h2m13 0h2m9 0h2m8 0h2m-347 1h2m14 0h2m9 0h2m51 0h2m3 0h3m24 0h4m191 0h2m9 0h2m22 0h3m12 0h2m-374 1h2m24 0h2m66 0h5m2 0h2m20 0h6m179 0h4m21 0h2m12 0h2m-349 1h4m8 0h2m13 0h3m9 0h2m58 0h5m17 0h2m4 0h2m180 0h2m8 0h2m13 0h3m22 0h2m-360 1h2m24 0h2m8 0h2m13 0h2m43 0h3m22 0h7m76 0h2m103 0h2m22 0h4m6 0h2m13 0h3m-359 1h2m23 0h3m19 0h3m15 0h6m3 0h2m12 0h6m3 0h2m16 0h10m1 0h5m69 0h4m99 0h4m6 0h2m13 0h6m22 0h5m-366 1h5m5 0h2m13 0h5m6 0h2m12 0h2m1 0h2m4 0h11m8 0h2m7 0h6m8 0h3m9 0h7m8 0h2m6 0h6m61 0h2m2 0h22m78 0h2m7 0h2m14 0h2m9 0h2m17 0h4m-367 1h2m23 0h2m8 0h2m10 0h4m3 0h6m17 0h4m1 0h6m15 0h2m3 0h6m29 0h5m55 0h2m3 0h2m91 0h2m50 0h2m6 0h2m13 0h2m-370 1h2m19 0h2m14 0h2m4 0h5m19 0h2m2 0h3m17 0h2m3 0h4m40 0h5m52 0h5m104 0h2m11 0h2m12 0h2m24 0h2m-366 1h2m23 0h2m2 0h2m20 0h3m17 0h4m2 0h2m16 0h4m2 0h2m47 0h3m53 0h2m99 0h4m11 0h2m9 0h2m12 0h2m-347 1h2m21 0h4m10 0h2m34 0h5m19 0h5m190 0h2m11 0h3m24 0h3m-336 1h2m22 0h3m9 0h2m58 0h3m24 0h4m181 0h3m7 0h2m13 0h2m8 0h2m13 0h3m-359 1h2m22 0h3m47 0h2m12 0h6m3 0h2m15 0h7m167 0h2m12 0h6m23 0h4m22 0h4m3 0h2m-371 1h5m20 0h5m6 0h2m39 0h3m8 0h5m7 0h4m9 0h6m187 0h2m10 0h2m12 0h4m7 0h2m17 0h3m-366 1h2m23 0h2m8 0h2m39 0h2m1 0h2m2 0h6m10 0h2m2 0h2m2 0h7m177 0h2m24 0h2m34 0h2m5 0h3m-315 1h2m25 0h2m3 0h3m15 0h2m3 0h4m204 0h2m14 0h2m12 0h2m16 0h2m-333 1h2m2 0h2m12 0h2m29 0h5m18 0h6m208 0h2m9 0h2m23 0h2m13 0h2m-337 1h2m12 0h2m35 0h2m21 0h3m180 0h2m21 0h4m23 0h3m-312 1h3m11 0h2m61 0h2m24 0h3m151 0h3m23 0h2m9 0h2m13 0h2m8 0h2m13 0h3m-334 1h2m7 0h2m60 0h4m22 0h5m154 0h3m21 0h4m22 0h4m24 0h2m-341 1h5m7 0h2m60 0h2m2 0h2m11 0h13m1 0h11m142 0h4m19 0h4m8 0h2m12 0h4m7 0h2m15 0h4m-340 1h2m9 0h2m60 0h2m4 0h13m11 0h2m1 0h2m9 0h11m130 0h2m32 0h2m41 0h2m-341 1h2m5 0h2m4 0h2m13 0h2m49 0h2m2 0h2m24 0h3m194 0h2m12 0h2m10 0h2m-336 1h2m7 0h2m2 0h2m13 0h2m53 0h4m26 0h2m180 0h2m9 0h2m24 0h2m-336 1h2m8 0h5m13 0h2m58 0h2m23 0h4m176 0h4m22 0h4m-311 1h2m12 0h2m60 0h2m19 0h4m1 0h2m178 0h2m9 0h2m13 0h2m9 0h2m-336 1h2m12 0h5m8 0h2m59 0h4m21 0h2m2 0h3m177 0h4m24 0h2m-329 1h2m10 0h4m2 0h2m6 0h3m59 0h2m2 0h2m23 0h4m1 0h5m168 0h4m8 0h2m13 0h5m6 0h2m-311 1h2m60 0h2m4 0h26m1 0h2m6 0h6m172 0h2m14 0h2m8 0h2m-336 1h2m23 0h2m13 0h2m49 0h2m2 0h2m26 0h2m11 0h5m177 0h2m24 0h2m-348 1h2m18 0h2m3 0h2m13 0h2m53 0h4m44 0h3m161 0h2m9 0h2m13 0h2m-339 1h4m20 0h5m13 0h2m58 0h2m203 0h4m22 0h4m10 0h2m-349 1h3m22 0h2m13 0h2m60 0h2m23 0h4m176 0h3m9 0h2m-320 1h4m20 0h4m9 0h2m36 0h3m21 0h3m20 0h4m1 0h2m179 0h3m22 0h4m6 0h2m-348 1h6m17 0h4m11 0h2m35 0h5m20 0h2m1 0h2m21 0h2m2 0h4m173 0h5m6 0h2m13 0h6m-340 1h2m35 0h2m35 0h2m3 0h24m1 0h26m5 0h8m164 0h2m8 0h2m14 0h2m9 0h2m-318 1h2m5 0h2m39 0h2m1 0h2m20 0h2m1 0h2m24 0h2m11 0h7m203 0h2m-328 1h3m3 0h2m14 0h2m27 0h3m22 0h3m44 0h4m160 0h2m11 0h2m7 0h2m3 0h2m-316 1h3m1 0h2m14 0h2m31 0h2m23 0h2m203 0h4m11 0h2m9 0h2m12 0h2m-323 1h2m14 0h2m84 0h3m176 0h3m24 0h3m-312 1h5m9 0h3m34 0h3m22 0h3m21 0h5m179 0h3m7 0h2m13 0h2m8 0h2m-325 1h4m12 0h2m34 0h5m20 0h5m20 0h2m3 0h4m173 0h6m6 0h2m15 0h4m-303 1h2m34 0h2m3 0h24m1 0h25m6 0h8m164 0h2m9 0h2m13 0h4m7 0h2m-317 1h2m4 0h3m38 0h2m1 0h2m20 0h2m1 0h2m23 0h3m11 0h7m-130 1h2m6 0h2m3 0h2m43 0h3m22 0h3m25 0h2m17 0h4m157 0h2m2 0h2m24 0h2m-325 1h2m7 0h3m1 0h2m16 0h2m29 0h2m23 0h2m206 0h2m21 0h2m-309 1h2m15 0h3m83 0h2m203 0h3m-325 1h2m11 0h4m12 0h2m60 0h2m20 0h5m204 0h2m-315 1h4m13 0h3m58 0h5m19 0h2m3 0h2m178 0h4m22 0h4m-329 1h2m24 0h3m59 0h2m3 0h12m10 0h2m2 0h6m171 0h3m22 0h4m-327 1h2m23 0h3m64 0h2m1 0h2m10 0h15m5 0h11m-144 1h2m22 0h2m3 0h2m69 0h3m24 0h2m15 0h6m-147 1h2m18 0h6m16 0h2m55 0h2m-105 1h4m21 0h3m16 0h2m-45 1h2m23 0h2m13 0h3m59 0h2m22 0h4m-130 1h4m16 0h8m9 0h3m60 0h3m19 0h4m1 0h2m-133 1h4m35 0h2m61 0h2m1 0h2m21 0h2m1 0h6m-108 1h2m5 0h3m61 0h2m3 0h23m2 0h3m4 0h10m-119 1h2m3 0h3m66 0h5m24 0h3m13 0h6m-126 1h3m1 0h2m73 0h2m-83 1h2m2 0h2m18 0h2m-27 1h8m13 0h4m-7 1h3m-7 1h4m-13 1h2m4 0h3m-10 1h2m1 0h4m-8 1h4m-6 1h2m2 0h2m-7 1h8m17 0h2m-6 1h4m-7 1h3m-16 1h2m7 0h4m-14 1h2m5 0h3m-11 1h3m1 0h4m-10 1h2m2 0h2m-7 1h4m1 0h2m17 0h2m-22 1h4m13 0h3m-7 1h4m-7 1h3m-12 1h2m4 0h3m-11 1h8m-6 1h3m-7 1h8m248 0h8m-4 1h3m-5 1h3m1 0h3m-5 1h2m3 0h3m0 1h3m0 1h2m-94 1h8m86 0h3m-92 1h2m90 0h3m-96 1h3m93 0h2m-99 1h3m1 0h2m-5 1h2m3 0h2m0 1h3m0 1h2m-16 1h4m1 0h2m9 0h3m-15 1h4m11 0h2m-17 1h3m14 0h2m-20 1h3m1 0h2m14 0h2m-21 1h2m3 0h2m0 1h2m0 1h2m0 1h2m0 1h2m0 1h2m0 1h2m0 1h2"/>
<path stroke="#000000" transform="translate(.5 0)" d="M232 459v1m0 6v1m0 42v1m1-154v1m0 46v1m0 40v1m0 13v1m0 6v1m0 21v1m0 20v1m1-116v1m0 7v1m0 6v1m0 13v1m0 13v1m0 6v1m0 6v2m0 12v1m1-107v1m0 32v1m0 8v1m0 6v1m0 12v1m0 21v1m0 6v1m0 5v1m0 6v1m0 3v1m0 17v1m0 21v1m1-157v1m0 39v1m0 2v1m0 3v2m0 5v2m0 13v1m0 2v1m0 10v1m0 6v1m0 7v1m0 2v1m0 31v1m2-28v1m0 6v1m1-114v2m0 38v1m0 7v1m0 6v1m0 13v1m0 14v1m0 6v1m0 6v1m0 6v1m1-108v2m0 4v1m0 34v1m0 7v1m0 6v1m0 13v1m0 14v1m0 6v1m0 6v1m0 57v1m1-160v2m0 48v1m0 6v1m0 57v1m1-118v2m0 49v1m0 6v1m0 50v1m0 28v1m1-141v2m0 43v1m0 28v1m0 14v1m0 6v1m0 6v1m1-106v2m0 44v1m0 28v1m0 14v1m0 6v1m0 6v1m0 14v1m1-122v2m0 53v1m0 6v1m0 50v1m0 6v1m0 43v1m1-167v2m0 54v1m0 6v1m0 50v1m1-117v2m0 48v1m0 6v1m0 6v1m0 14v1m0 14v1m0 6v1m0 6v1m0 36v1m1-148v2m0 14v1m0 34v1m0 6v1m0 6v1m0 14v1m0 14v1m0 6v1m0 6v1m0 14v1m0 43v1m1-171v2m0 57v1m0 6v1m0 51v1m1-61v1m0 6v1m0 51v1m1-67v1m0 5v1m0 6v1m0 15v1m0 14v1m0 6v1m0 6v1m0 14v1m1-75v1m0 28v1m0 14v1m0 6v1m0 6v1m1-94v1m0 99v1m0 51v1m1-46v1m0 22v1m2 4v1m0 6v1m0 6v1m0 6v1m0 6v1m1-50v1m0 19v1m0 6v1m0 6v1m0 6v1m0 6v1m0 27v1m1-92v1m0 6v1m0 6v1m0 7v1m0 6v1m1-106v1m0 11v1m0 6v1m0 13v1m0 6v1m0 6v1m0 7v1m0 6v1m0 6v1m0 5v1m0 6v1m0 6v1m0 13v1m0 11v1m1-130v1m0 10v2m0 11v1m0 7v1m0 13v1m0 6v1m0 6v1m0 7v1m0 6v1m0 6v1m0 5v1m0 12v1m0 17v1m0 8v1m0 5v2m0 14v1m1-155v3m0 9v2m0 12v2m0 5v1m0 14v1m0 6v1m0 6v1m0 14v1m0 6v1m0 5v1m0 6v1m0 6v1m0 14v1m0 62v1m1-185v1m0 48v1m0 6v1m0 6v1m0 3v1m0 10v1m0 6v1m2-71v1m0 13v1m0 6v1m0 35v1m0 20v1m0 6v1m0 7v1m1-110v2m0 13v1m0 13v1m0 6v1m0 78v1m0 6v1m1-124v1m0 3v1m0 9v2m0 13v1m0 6v1m0 14v1m0 6v1m0 6v1m0 14v1m0 6v1m1-89v1m0 13v1m0 14v1m0 6v1m0 14v1m0 6v1m0 6v1m0 7v1m0 6v1m0 6v1m0 6v1m0 6v1m0 7v1m1-111v1m0 13v1m0 14v1m0 6v1m0 14v1m0 6v1m0 6v1m0 7v1m0 6v1m0 6v1m1-90v2m0 13v1m0 58v1m1-76v1m0 14v1m0 58v1m0 21v1m0 6v1m0 7v1m0 6v1m0 6v1m1-127v1m0 14v1m0 15v1m0 6v1m0 14v1m0 6v1m0 6v1m0 6v1m0 7v1m0 6v1m0 21v1m1-113v1m0 14v1m0 15v1m0 6v1m0 14v1m0 6v1m0 6v1m0 6v1m0 7v1m0 6v1m1-91v1m0 13v2m0 15v1m0 6v1m0 14v1m0 6v1m0 6v1m0 14v1m0 6v1m0 7v1m0 6v1m1-107v2m0 13v1m0 16v1m0 6v1m0 14v1m0 6v1m0 6v1m0 14v1m0 6v1m0 22v1m1-115v1m0 14v1m0 16v1m0 6v1m0 36v1m0 44v1m0 6v1m1-130v1m0 14v1m0 16v1m0 6v1m0 36v1m0 22v1m0 6v1m1-93v1m0 16v1m0 6v1m0 15v1m0 6v1m0 6v1m0 6v1m0 7v1m0 6v1m0 22v1m1-84v1m0 6v1m0 15v1m0 6v1m0 6v1m0 6v1m0 7v1m0 6v1m1 7v1m0 6v1m1 6v1m0 7v1m0 6v1m1 7v1m2-95v1m0 11v1m0 52v1m1-68v2m0 11v1m1-16v1m0 68v1m1-72v2m0 67v1m1-68v1m0 37v1m2-39v1m0 12v1m1-15v1m1-2v1m1-2v1m1-2v1m1-2v1m0 14v1m3-18v1m0 14v1m1-17v1m1-2v1m1-2v1m1-2v1m1-2v1m0 16v1m1-19v1m1-2v1m1 16v1m2 25v1m1-14v1m0 5v1m0 5v1m0 4v1m0 15v1m0 27v1m1-70v1m0 6v1m0 5v1m1-15v1m0 6v1m0 18v1m1-22v1m0 18v1m1-54v1m0 25v1m0 6v1m0 3v1m0 2v1m0 27v1m0 6v1m0 6v1m0 6v1m0 6v1m1-102v1m0 1v1m1-5v2m1 40v1m1-42v1m1-3v2m0 2v1m1-6v1m0 3v1m1-7v2m0 34v1m1-39v2m0 43v1m1-47v1m1-3v2m1-3v1m0 46v1m1-50v2m0 39v1m1-44v2m1-3v1m2 48v1m3-10v1m0 6v1m0 74v1m0 5v1m1-112v1m0 19v1m0 16v1m0 45v1m0 6v1m0 6v1m0 20v1m1-120v1m0 19v1m0 16v1m0 21v1m1-61v1m0 36v1m0 21v1m1-41v1m0 38v1m0 7v1m1-69v1m0 19v1m0 3v1m0 11v1m0 3v1m0 17v1m0 7v2m0 6v1m0 8v1m0 7v1m0 6v1m0 20v1m0 6v1m1-128v1m0 35v1m0 21v1m0 2v2m0 8v1m1-47v1m0 39v1m3-65v1m0 35v1m1-2v1m0 44v1m1-17v1m0 14v1m1-2v1m1-45v1m0 42v1m3-82v1m0 35v1m0 42v1m1-2v1m1-15v1m0 12v1m1-2v1m2-80v1m0 35v1m1 40v1m1-14v1m0 11v1m3-80v1m0 35v1m0 22v1m4 72v1m0 27v1m0 6v1m1-6v1m23-63v1m1-2v1m1-2v1m1-3v1m0 3v1m5-5v1m5-4v1m3-3v1m5-4v1m4-53v1m1-3v2m2-5v1m3 1v1m1-2v1m3-3v1m1-2v1m3-3v1m1-2v1m3-3v1m1-2v1m3-3v1m3 192v1m0 6v1m1-7v1m0 6v1m3-5v1m0 6v1m27-161v1m0 2v3m1 4v3m0 1v1m2-16v3m0 10v1m1-16v2m0 7v2m0 3v1m1-18v3m1-6v3m0 4v4m0 6v1m1-14v3m1-12v2m0 4v3m1-12v3m1-5v2m0 4v2m1-10v2m29 12v1m4 2v1m2 146v1m2-65v1m1-3v1m1-3v2m0 69v1m3-71v1m1-2v1m1-100v1m1 2v2m1-22v3m0 1v14m0 4v2m0 90v1m1-95v2m1-5v1m1 94v1m3-3v1m1-2v1m3-3v1m5 12v1m0 6v1m1-30v1m0 6v1m0 6v1m0 6v1m0 6v1m0 7v1m0 6v1m0 7v1m1-59v1m0 5v1m0 6v1m0 42v2m1-60v1m0 5v1m0 6v1m0 6v1m0 7v1m0 6v1m0 6v1m0 6v1m0 7v1m1-60v2m0 2v1m0 2v1m0 6v1m0 6v1m0 14v1m0 6v1m0 6v1m0 9v2m1-164v2m0 1v1m0 100v1m1-109v1m1 4v1m0 4v2m0 26v1m0 75v1m0 6v1m1-122v2m0 2v1m0 9v1m0 26v2m0 8v1m0 54v1m0 20v1m0 7v1m0 6v1m0 6v1m0 6v1m1-159v2m0 43v3m0 8v3m0 48v1m0 57v1m1-168v2m0 6v4m0 3v1m0 14v13m0 7v2m0 3v1m0 5v2m0 45v1m0 7v1m0 6v1m1-121v3m0 10v14m0 17v3m0 9v2m1-61v3m0 43v1m0 11v1m1-65v2m0 46v1m0 12v1m0 50v1m0 21v1m0 7v1m0 6v1m0 6v1m0 6v1m1-166v2m0 111v1m1-116v2m0 112v1m0 8v1m0 6v1m1-133v2m0 113v1m0 22v1m0 7v1m0 6v1m0 6v1m0 6v1m0 7v1m2-53v1m0 6v1m1-18v1m1-2v1m1 8v1m0 6v1m0 6v1m0 7v1m0 6v1m0 6v1m0 6v1m0 7v1m5-33v1m0 6v2m0 6v1m0 6v1m0 6v1m0 7v1m0 6v1m1-46v1m0 6v1m0 6v2m0 6v1m0 6v1m0 6v2m0 5v2m1-75v1m0 34v1m0 7v1m0 6v1m0 6v1m1-62v3m0 35v1m0 7v1m0 6v1m0 3v1m0 2v1m0 2v1m0 11v1m1-94v2m0 1v1m0 8v2m0 1v2m1-77v1m0 12v1m0 2v2m0 9v1m0 2v1m0 9v1m0 2v4m0 1v1m0 6v1m0 3v1m0 9v1m0 10v1m1-78v4m0 11v1m0 12v1m0 2v1m0 14v1m0 11v1m0 11v1m0 2v1m0 34v1m0 6v1m0 6v1m0 6v1m0 14v1m0 6v1m1-146v4m0 10v2m0 10v1m0 2v1m0 7v1m0 5v1m0 7v1m0 8v1m0 5v1m0 34v1m1-93v1m0 6v1m0 5v1m0 13v1m0 21v2m0 5v1m0 3v1m0 59v1m1-144v1m0 38v1m0 13v1m0 17v1m0 3v1m0 2v1m0 42v1m0 6v1m0 6v1m0 14v1m0 6v1m1-125v1m0 2v1m0 10v1m0 2v2m0 17v2m0 5v1m0 36v1m1-126v1m0 4v1m0 6v1m0 38v1m0 13v1m0 13v2m0 5v2m1-94v6m0 14v4m0 11v2m0 16v2m0 13v2m0 13v2m0 6v1m0 45v1m0 6v1m0 6v1m0 14v1m0 6v1m1-177v3m0 16v4m0 12v3m0 15v2m0 14v2m0 14v1m0 6v2m0 38v1m0 28v1m1-145v2m0 14v2m0 16v2m0 14v2m0 14v2m0 6v1m0 39v1m1-83v2m0 14v2m0 14v2m0 7v1m0 47v1m0 6v1m0 6v1m0 14v1m0 6v1m1-112v2m0 15v1m0 7v2m0 69v1m1-73v1m0 41v1m1-2v1m0 7v1m0 6v1m0 6v1m0 14v1m0 6v1m3-47v1m0 7v1m0 6v1m0 6v1m0 7v1m0 6v1m0 6v1m5-34v1m0 5v1m0 4v1m1-90v3m0 1v1m0 53v1m0 6v1m0 5v1m0 3v2m0 5v1m0 5v1m0 6v1m1-102v2m0 2v2m0 27v2m0 5v2m0 5v2m0 5v2m0 3v4m0 3v4m0 3v3m0 3v1m0 12v1m0 6v1m1-113v2m0 2v5m0 1v1m0 10v1m0 19v2m0 1v2m0 6v1m0 6v1m0 6v1m0 10v1m0 6v1m0 5v2m0 5v1m0 6v1m0 5v2m0 2v1m1-95v1m0 26v1m0 6v1m0 6v1m0 6v1m0 3v1m0 2v1m0 6v1m0 5v1m0 23v1m1-133v1m0 27v1m0 6v1m0 3v1m0 43v1m0 6v1m0 6v1m0 3v1m0 16v1m0 6v1m1-123v4m0 20v1m0 5v2m0 3v1m0 23v1m0 6v1m0 6v1m0 5v1m0 6v1m0 2v1m0 3v1m0 6v2m0 6v1m0 5v1m0 6v1m1-117v1m0 10v3m0 3v2m0 4v2m0 27v2m0 5v2m0 5v2m0 5v1m0 6v1m0 6v1m0 6v1m0 3v1m0 3v1m0 2v1m0 2v1m0 13v1m1-131v1m0 5v1m0 10v2m0 10v2m0 5v1m0 21v2m0 6v1m0 6v1m0 13v1m0 6v1m0 6v1m0 6v2m0 5v1m0 13v1m1-137v7m0 4v2m0 21v2m0 27v2m0 42v1m0 6v1m0 6v1m0 7v1m0 5v1m1-142v6m0 17v2m0 10v1m0 2v2m0 27v2m0 6v2m0 5v2m0 5v2m0 6v1m0 6v1m0 6v1m0 7v1m0 6v1m0 7v1m1-142v7m0 14v1m0 6v2m0 14v1m0 28v1m0 6v2m0 5v2m0 6v1m0 6v2m0 5v2m0 6v1m0 7v1m0 6v1m0 7v1m1-145v4m0 25v3m0 14v2m0 27v2m0 5v2m0 5v2m0 6v2m0 6v1m0 6v1m0 7v1m0 7v1m0 6v1m0 7v1m0 6v1m1-125v3m0 15v2m0 27v2m0 6v1m0 6v1m0 7v1m0 7v1m0 6v1m0 6v2m0 7v1m0 6v1m0 7v1m0 6v1m1-127v3m0 16v2m0 27v2m0 6v2m0 5v2m0 6v2m0 6v2m0 5v2m0 6v1m0 8v1m0 6v1m0 7v1m0 6v1m1-129v3m0 17v2m0 27v2m0 6v2m0 5v2m0 7v1m0 7v1m0 6v1m0 7v1m0 7v2m0 6v1m0 14v1m1-130v2m0 18v2m0 27v2m0 6v2m0 5v2m0 8v1m0 7v1m0 6v1m0 6v2m0 7v1m0 7v1m1-96v2m0 28v1m0 7v1m0 6v1m0 8v2m0 6v2m0 5v2m0 6v1m0 8v1m0 7v1m0 8v1m1-105v1m0 53v1m0 7v1m0 6v1m0 7v1m0 8v1m0 7v1m0 8v1m0 6v1m1-26v1m0 7v1m0 8v1m0 6v1m1-9v1m6-84v1m1-8v1m0 4v1m0 47v1m0 6v1m0 6v1m0 6v1m0 6v1m0 5v1m1-93v2m0 2v1m0 43v2m0 3v3m0 5v2m0 5v3m0 4v3m0 4v3m0 3v3m1-50v2m0 1v1m0 2v1m0 10v1m0 6v1m0 6v2m0 5v2m0 5v1m1-70v1m0 2v2m0 5v4m0 2v3m0 4v1m0 8v1m0 20v1m0 6v1m0 4v1m0 1v1m1-83v1m0 19v1m0 19v1m0 8v1m0 21v1m0 6v1m1-80v1m0 4v1m0 34v1m0 2v1m0 5v1m0 7v1m0 6v1m0 6v1m0 6v1m0 6v1m1-88v2m0 2v1m0 18v1m0 6v1m0 4v1m0 7v2m0 5v1m0 6v2m0 5v2m0 3v1m0 1v2m0 6v1m0 5v2m1-89v2m0 5v1m0 9v2m0 5v1m0 19v1m0 13v1m0 6v1m0 6v1m0 7v1m0 5v1m1-88v1m0 6v1m0 6v3m0 11v1m0 5v2m0 13v1m0 7v2m0 5v2m0 5v2m0 6v1m0 6v1m1-89v2m0 9v5m0 4v2m0 5v3m0 4v2m0 7v2m0 5v1m0 7v1m0 6v1m0 6v1m0 6v2m0 6v1m1-89v1m0 9v2m0 5v3m0 6v2m0 5v2m0 7v2m0 6v1m0 7v1m0 6v1m0 6v1m0 6v1m0 7v1m1-90v2m0 4v1m0 1v1m0 7v3m0 6v2m0 6v2m0 8v1m0 6v2m0 6v2m0 5v2m0 5v2m0 6v1m0 7v1m1-90v1m0 3v3m0 7v3m0 6v3m0 6v2m0 8v2m0 6v1m0 7v1m0 6v1m0 6v1m0 6v2m0 7v1m1-91v2m0 7v1m0 4v2m0 7v2m0 7v2m0 8v2m0 6v2m0 6v2m0 5v2m0 5v2m0 6v1m0 7v2m1-92v2m0 8v1m0 22v1m0 8v2m0 7v1m0 7v1m0 6v1m0 6v1m0 7v1m0 7v1m1-91v1m0 9v1m0 31v1m0 7v2m0 6v2m0 5v2m0 5v2m0 6v2m0 7v1m1-92v2m0 9v1m0 39v1m0 7v1m0 6v1m0 6v1m0 7v1m0 8v1m1-92v1m0 10v1m7 2v1m0 6v1m0 15v1m1-33v1m0 6v2m0 5v2m0 14v2m0 32v1m0 6v1m0 6v1m1-81v1m0 7v1m0 5v1m0 15v1m0 12v1m0 6v1m0 10v4m0 3v4m0 3v4m0 7v1m1-89v2m0 5v2m0 6v1m0 14v2m0 8v1m0 1v2m0 3v1m0 1v2m0 4v1m0 1v2m0 2v1m0 6v1m0 6v1m0 9v2m1-85v1m0 8v1m0 22v1m0 3v2m0 5v2m0 6v1m0 12v1m0 6v1m0 6v1m1-64v1m0 25v1m0 6v1m0 7v1m0 2v1m0 3v1m0 2v1m0 3v1m1-65v1m0 7v1m0 14v1m0 7v1m0 14v1m0 5v1m0 6v1m0 7v1m1-76v1m0 6v1m0 7v1m0 14v1m0 7v1m0 6v2m0 6v1m0 5v1m0 6v1m0 7v1m0 6v2m1-84v1m0 6v1m0 7v1m0 13v2m0 7v1m0 6v1m0 6v2m0 5v1m0 6v1m0 4v1m0 1v2m0 3v1m0 2v1m0 3v1m1-87v1m0 6v1m0 7v1m0 13v1m0 7v2m0 6v1m0 6v1m0 20v1m0 7v1m1-83v1m0 6v1m0 7v1m0 13v1m0 7v1m0 6v2m0 5v2m0 5v1m0 6v1m0 7v1m0 6v2m1-68v1m0 13v1m0 6v2m0 6v1m0 6v1m0 5v2m0 5v2m0 6v2m0 6v1m1-67v1m0 13v1m0 6v1m0 7v1m0 6v1m0 5v1m0 6v1m0 7v1m0 7v1m1-81v1m0 6v1m0 6v1m0 13v1m0 6v1m0 6v2m0 5v2m0 5v1m0 6v1m0 7v1m0 6v2m1-81v1m0 6v1m0 6v1m0 13v1m0 5v2m0 6v1m0 6v1m0 5v2m0 5v2m0 6v2m0 6v1m1-80v1m0 6v1m0 6v1m0 12v2m0 5v1m0 7v1m0 5v2m0 5v1m0 6v1m0 7v1m0 7v1m1-80v1m0 6v1m0 6v1m0 12v1m0 6v1m0 6v2m0 5v1m0 6v1m0 6v1m0 7v1m0 6v2m1-73v1m0 6v1m0 12v1m0 5v2m0 6v1m0 5v2m0 5v2m0 5v2m0 6v2m0 6v1m1-72v1m0 6v1m0 12v1m0 5v1m0 7v1m0 5v1m0 6v1m0 6v1m0 7v1m0 7v1m1-78v1m0 5v1m0 6v1m0 12v1m1-28v1m0 12v1m7-4v1m0 8v1m0 7v1m0 6v1m1-27v1m0 5v1m0 1v2m0 5v3m0 4v3m0 9v1m1-31v2m0 6v2m0 5v2m0 8v1m0 1v1m1-36v1m0 11v1m0 18v1m1-15v1m0 6v1m1-24v1m0 6v2m0 6v1m0 6v1m0 8v1m1-34v2m0 6v1m0 7v1m0 6v1m0 7v2m0 2v1m1-37v1m0 7v1m0 6v2m0 6v1m0 4v1m0 1v2m0 3v1m1-37v1m0 7v1m0 6v1m0 14v1m1-32v1m0 7v1m0 5v2m0 5v2m0 6v2m1-32v1m0 6v2m0 5v1m0 6v1m0 6v2m1-31v1m0 6v1m0 6v1m0 6v1m0 6v1m1-30v1m0 6v1m0 5v2m0 5v2m0 5v2m1-31v2m0 6v1m0 5v1m0 6v1m0 5v2m1-30v1m0 7v1m0 5v1m0 6v1m0 4v2m1-29v1m0 6v2m0 4v2m0 5v2m0 4v1m1-28v1m0 6v1m0 5v1m0 6v1m1-15v1m8 29v1m1-5v3m1-11v3m1-6v2m1 13v1m0 2v2m0 1v1m1-21v1m0 6v1m1-10v2m0 6v1m0 6v2m0 3v1m1-22v1m0 6v2m0 6v1m1-17v1m0 12v1m1-17v1m0 7v2m0 4v2m1-17v1m0 7v1m0 4v2m1-17v2m0 7v1m0 3v2m1-17v2m0 7v2m0 2v2m1-16v1m0 8v1m0 2v2m1-16v2m0 7v2m0 2v1m1-16v2m0 8v1m1-12v1m0 9v1m1-3v2m1-3v1m7 27v1m1-3v2m2-7v2m0 12v1m0 1v1m1-24v2m0 1v1m0 1v1m0 11v2m1-23v2m0 12v1m1-10v1m0 7v1m0 8v1m0 8v1m1-32v2m0 2v1m0 1v2m0 13v1m0 12v3m1-39v2m0 5v1m0 13v2m0 9v2m0 6v1m1-43v2m0 6v1m0 17v2m0 1v5m0 6v1m1-43v2m0 5v1m0 14v2m0 1v3m0 13v1m1-44v2m0 6v1m0 10v2m0 1v1m0 17v1m1-43v2m0 6v2m0 8v1m1-21v2m0 7v1m0 9v1m0 3v2m1-27v2m0 7v2m0 9v1m0 3v1m1-26v1m0 7v2m0 10v1m0 2v2m1-18v1m0 11v1m0 2v1m1-5v1m1-2v1m1-2v1m63-8v1m0 2v3m0 2v1m0 1v2m0 1v1m2-3v1m1-15v4m0 5v2m1-14v3m1-6v3m0 4v4m1-15v4m0 4v3m1-14v3m0 5v3m1-13v2m0 6v2"/>
</g>
<circle cx="549.6" cy="566.7" r="5.7" fill="none" stroke="#000" stroke-width="1.5"/>
<path d="M547.6 566.7l2 -2l2 2l-2 2z" fill="#000"/>
<circle cx="562.7" cy="551.7" r="5.7" fill="none" stroke="#000" stroke-width="1.5"/>
<path d="M560.7 551.7l2 -2l2 2l-2 2z" fill="#000"/>
<circle cx="575.0" cy="534.7" r="5.7" fill="none" stroke="#000" stroke-width="1.5"/>
<path d="M573.0 534.7l2 -2l2 2l-2 2z" fill="#000"/>
<circle cx="588.0" cy="507.3" r="5.7" fill="none" stroke="#000" stroke-width="1.5"/>
<path d="M586.0 507.3l2 -2l2 2l-2 2z" fill="#000"/>
<circle cx="601.1" cy="510.9" r="5.7" fill="none" stroke="#000" stroke-width="1.5"/>
<path d="M599.1 510.9l2 -2l2 2l-2 2z" fill="#000"/>
<circle cx="614.0" cy="491.0" r="5.7" fill="none" stroke="#000" stroke-width="1.5"/>
<path d="M612.0 491.0l2 -2l2 2l-2 2z" fill="#000"/>
<circle cx="626.5" cy="478.7" r="5.7" fill="none" stroke="#000" stroke-width="1.5"/>
<path d="M624.5 478.7l2 -2l2 2l-2 2z" fill="#000"/>
<circle cx="639.0" cy="456.0" r="5.7" fill="none" stroke="#000" stroke-width="1.5"/>
<path d="M637.0 456.0l2 -2l2 2l-2 2z" fill="#000"/>
<circle cx="652.0" cy="452.2" r="5.7" fill="none" stroke="#000" stroke-width="1.5"/>
<path d="M650.0 452.2l2 -2l2 2l-2 2z" fill="#000"/>
<circle cx="664.9" cy="411.1" r="5.7" fill="none" stroke="#000" stroke-width="1.5"/>
<path d="M662.9 411.1l2 -2l2 2l-2 2z" fill="#000"/>
<circle cx="677.8" cy="364.9" r="5.7" fill="none" stroke="#000" stroke-width="1.5"/>
<path d="M675.8 364.9l2 -2l2 2l-2 2z" fill="#000"/>
</svg>
</body></html>
